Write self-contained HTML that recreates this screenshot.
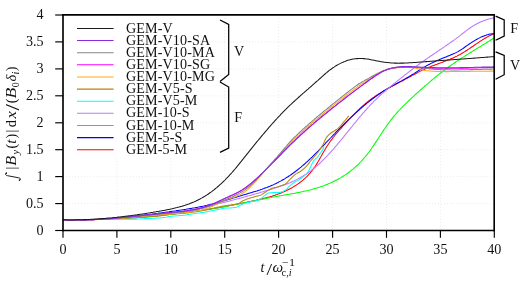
<!DOCTYPE html>
<html><head><meta charset="utf-8"><title>plot</title>
<style>
html,body{margin:0;padding:0;background:#fff;}
body{width:525px;height:283px;overflow:hidden;}
svg{display:block;will-change:transform;}
text{font-family:"Liberation Serif",serif;fill:#111;}
.it{font-style:italic;}
</style></head><body>
<svg width="525" height="283" viewBox="0 0 525 283">
<rect x="0" y="0" width="525" height="283" fill="#ffffff"/>
<g stroke="#dcdcdc" stroke-width="0.75" stroke-dasharray="0.75 2.3" fill="none"><line x1="116.9" y1="15.0" x2="116.9" y2="230.5"/><line x1="170.8" y1="15.0" x2="170.8" y2="230.5"/><line x1="224.7" y1="15.0" x2="224.7" y2="230.5"/><line x1="278.6" y1="15.0" x2="278.6" y2="230.5"/><line x1="332.6" y1="15.0" x2="332.6" y2="230.5"/><line x1="386.5" y1="15.0" x2="386.5" y2="230.5"/><line x1="440.4" y1="15.0" x2="440.4" y2="230.5"/><line x1="63.0" y1="203.6" x2="494.3" y2="203.6"/><line x1="63.0" y1="176.6" x2="494.3" y2="176.6"/><line x1="63.0" y1="149.7" x2="494.3" y2="149.7"/><line x1="63.0" y1="122.8" x2="494.3" y2="122.8"/><line x1="63.0" y1="95.8" x2="494.3" y2="95.8"/><line x1="63.0" y1="68.9" x2="494.3" y2="68.9"/><line x1="63.0" y1="41.9" x2="494.3" y2="41.9"/></g>
<rect x="70" y="22.5" width="118" height="133.5" fill="#ffffff"/>
<g fill="none" stroke-width="1.05" stroke-linejoin="round" stroke-linecap="butt">
<path stroke="#ff0000" d="M63.0,219.8 L64.0,219.8 L65.0,219.8 L66.0,219.8 L67.0,219.8 L68.0,219.8 L69.0,219.8 L70.0,219.8 L71.0,219.8 L72.0,219.8 L73.0,219.8 L74.0,219.8 L75.0,219.8 L76.0,219.8 L77.0,219.8 L78.0,219.8 L79.0,219.8 L80.0,219.8 L81.0,219.7 L82.0,219.7 L83.0,219.7 L84.0,219.7 L85.0,219.7 L86.0,219.7 L87.0,219.7 L88.0,219.6 L89.0,219.6 L90.0,219.6 L91.0,219.6 L92.0,219.6 L93.0,219.5 L94.0,219.5 L95.0,219.5 L96.0,219.5 L97.0,219.4 L98.0,219.4 L99.0,219.4 L100.0,219.3 L101.0,219.3 L102.0,219.3 L103.0,219.2 L104.0,219.2 L105.0,219.2 L106.0,219.1 L107.0,219.1 L108.0,219.0 L109.0,219.0 L110.0,219.0 L111.0,218.9 L112.0,218.9 L113.0,218.8 L114.0,218.8 L115.0,218.7 L116.0,218.7 L117.0,218.6 L118.0,218.6 L119.0,218.5 L120.0,218.5 L121.0,218.4 L122.0,218.4 L123.0,218.3 L124.0,218.3 L125.0,218.2 L126.0,218.2 L127.0,218.1 L128.0,218.0 L129.0,218.0 L130.0,217.9 L131.0,217.8 L132.0,217.8 L133.0,217.7 L134.0,217.6 L135.0,217.6 L136.0,217.5 L137.0,217.4 L138.0,217.4 L139.0,217.3 L140.0,217.2 L141.0,217.1 L142.0,217.1 L143.0,217.0 L144.0,216.9 L145.0,216.8 L146.0,216.7 L147.0,216.7 L148.0,216.6 L149.0,216.5 L150.0,216.4 L151.0,216.3 L152.0,216.2 L153.0,216.1 L154.0,216.1 L155.0,216.0 L156.0,215.9 L157.0,215.8 L158.0,215.7 L159.0,215.6 L160.0,215.5 L161.0,215.4 L162.0,215.3 L163.0,215.2 L164.0,215.1 L165.0,215.0 L166.0,214.9 L167.0,214.8 L168.0,214.7 L169.0,214.6 L170.0,214.4 L171.0,214.3 L172.0,214.2 L173.0,214.1 L174.0,214.0 L175.0,213.9 L176.0,213.8 L177.0,213.6 L178.0,213.5 L179.0,213.4 L180.0,213.3 L181.0,213.2 L182.0,213.0 L183.0,212.9 L184.0,212.8 L185.0,212.7 L186.0,212.5 L187.0,212.4 L188.0,212.3 L189.0,212.1 L190.0,212.0 L191.0,211.9 L192.0,211.7 L193.0,211.6 L194.0,211.4 L195.0,211.3 L196.0,211.2 L197.0,211.0 L198.0,210.9 L199.0,210.7 L200.0,210.6 L201.0,210.4 L202.0,210.3 L203.0,210.1 L204.0,210.0 L205.0,209.8 L206.0,209.7 L207.0,209.5 L208.0,209.4 L209.0,209.2 L210.0,209.0 L211.0,208.9 L212.0,208.7 L213.0,208.6 L214.0,208.4 L215.0,208.2 L216.0,208.1 L217.0,207.9 L218.0,207.7 L219.0,207.6 L220.0,207.4 L221.0,207.2 L222.0,207.0 L223.0,206.9 L224.0,206.7 L225.0,206.5 L226.0,206.3 L227.0,206.1 L228.0,205.9 L229.0,205.8 L230.0,205.6 L231.0,205.4 L232.0,205.2 L233.0,205.0 L234.0,204.8 L235.0,204.6 L236.0,204.4 L237.0,204.2 L238.0,204.0 L239.0,203.8 L240.0,203.6 L241.0,203.4 L242.0,203.2 L243.0,203.0 L244.0,202.8 L245.0,202.6 L246.0,202.4 L247.0,202.2 L248.0,202.0 L249.0,201.8 L250.0,201.6 L251.0,201.4 L252.0,201.1 L253.0,200.9 L254.0,200.7 L255.0,200.5 L256.0,200.3 L257.0,200.0 L258.0,199.8 L259.0,199.6 L260.0,199.3 L261.0,199.1 L262.0,198.9 L263.0,198.6 L264.0,198.4 L265.0,198.1 L266.0,197.9 L267.0,197.6 L268.0,197.3 L269.0,197.0 L270.0,196.8 L271.0,196.5 L272.0,196.2 L273.0,195.8 L274.0,195.5 L275.0,195.2 L276.0,194.8 L277.0,194.5 L278.0,194.1 L279.0,193.8 L280.0,193.4 L281.0,193.0 L282.0,192.6 L283.0,192.1 L284.0,191.7 L285.0,191.2 L286.0,190.8 L287.0,190.3 L288.0,189.8 L289.0,189.3 L290.0,188.8 L291.0,188.2 L292.0,187.7 L293.0,187.1 L294.0,186.5 L295.0,185.9 L296.0,185.3 L297.0,184.6 L298.0,183.9 L299.0,183.2 L300.0,182.5 L301.0,181.7 L302.0,180.9 L303.0,180.1 L304.0,179.2 L305.0,178.3 L306.0,177.4 L307.0,176.4 L308.0,175.3 L309.0,174.2 L310.0,173.1 L311.0,171.9 L312.0,170.6 L313.0,169.3 L314.0,167.9 L315.0,166.5 L316.0,165.0 L317.0,163.4 L318.0,161.8 L319.0,160.1 L320.0,158.3 L321.0,156.6 L322.0,154.8 L323.0,153.0 L324.0,151.3 L325.0,149.6 L326.0,147.9 L327.0,146.3 L328.0,144.7 L329.0,143.2 L330.0,141.8 L331.0,140.4 L332.0,139.1 L333.0,137.7 L334.0,136.5 L335.0,135.2 L336.0,134.0 L337.0,132.8 L338.0,131.7 L339.0,130.5 L340.0,129.4 L341.0,128.3 L342.0,127.1 L343.0,126.0 L344.0,124.9 L345.0,123.8 L346.0,122.7 L347.0,121.6 L348.0,120.6 L349.0,119.5 L350.0,118.4 L351.0,117.4 L352.0,116.3 L353.0,115.3 L354.0,114.3 L355.0,113.3 L356.0,112.3 L357.0,111.3 L358.0,110.3 L359.0,109.4 L360.0,108.4 L361.0,107.5 L362.0,106.6 L363.0,105.7 L364.0,104.8 L365.0,104.0 L366.0,103.1 L367.0,102.3 L368.0,101.5 L369.0,100.7 L370.0,100.0 L371.0,99.2 L372.0,98.5 L373.0,97.8 L374.0,97.1 L375.0,96.4 L376.0,95.7 L377.0,95.0 L378.0,94.4 L379.0,93.7 L380.0,93.1 L381.0,92.5 L382.0,91.9 L383.0,91.3 L384.0,90.7 L385.0,90.1 L386.0,89.6 L387.0,89.0 L388.0,88.4 L389.0,87.9 L390.0,87.4 L391.0,86.8 L392.0,86.3 L393.0,85.7 L394.0,85.2 L395.0,84.7 L396.0,84.2 L397.0,83.6 L398.0,83.1 L399.0,82.6 L400.0,82.1 L401.0,81.5 L402.0,81.0 L403.0,80.5 L404.0,80.0 L405.0,79.4 L406.0,78.9 L407.0,78.3 L408.0,77.8 L409.0,77.3 L410.0,76.7 L411.0,76.2 L412.0,75.6 L413.0,75.1 L414.0,74.5 L415.0,74.0 L416.0,73.5 L417.0,73.0 L418.0,72.4 L419.0,71.9 L420.0,71.4 L421.0,70.9 L422.0,70.4 L423.0,69.9 L424.0,69.5 L425.0,69.0 L426.0,68.5 L427.0,68.1 L428.0,67.7 L429.0,67.3 L430.0,66.9 L431.0,66.5 L432.0,66.1 L433.0,65.7 L434.0,65.3 L435.0,64.9 L436.0,64.5 L437.0,64.2 L438.0,63.8 L439.0,63.4 L440.0,63.1 L441.0,62.7 L442.0,62.4 L443.0,62.0 L444.0,61.6 L445.0,61.2 L446.0,60.8 L447.0,60.5 L448.0,60.1 L449.0,59.7 L450.0,59.3 L451.0,58.8 L452.0,58.4 L453.0,58.0 L454.0,57.5 L455.0,57.0 L456.0,56.6 L457.0,56.1 L458.0,55.5 L459.0,55.0 L460.0,54.5 L461.0,53.9 L462.0,53.3 L463.0,52.7 L464.0,52.1 L465.0,51.5 L466.0,50.8 L467.0,50.2 L468.0,49.5 L469.0,48.9 L470.0,48.2 L471.0,47.5 L472.0,46.8 L473.0,46.2 L474.0,45.5 L475.0,44.8 L476.0,44.1 L477.0,43.4 L478.0,42.8 L479.0,42.1 L480.0,41.4 L481.0,40.8 L482.0,40.1 L483.0,39.5 L484.0,38.9 L485.0,38.3 L486.0,37.7 L487.0,37.1 L488.0,36.5 L489.0,36.0 L490.0,35.5 L491.0,35.0 L492.0,34.5 L493.0,34.0 L494.0,33.6"/>
<path stroke="#0000ff" d="M63.0,219.8 L64.0,219.8 L65.0,219.9 L66.0,219.9 L67.0,219.9 L68.0,219.9 L69.0,219.9 L70.0,220.0 L71.0,220.0 L72.0,220.0 L73.0,220.0 L74.0,220.0 L75.0,220.0 L76.0,220.0 L77.0,220.0 L78.0,220.0 L79.0,220.0 L80.0,220.0 L81.0,219.9 L82.0,219.9 L83.0,219.9 L84.0,219.9 L85.0,219.9 L86.0,219.8 L87.0,219.8 L88.0,219.8 L89.0,219.7 L90.0,219.7 L91.0,219.7 L92.0,219.6 L93.0,219.6 L94.0,219.5 L95.0,219.5 L96.0,219.4 L97.0,219.4 L98.0,219.3 L99.0,219.3 L100.0,219.2 L101.0,219.2 L102.0,219.1 L103.0,219.0 L104.0,219.0 L105.0,218.9 L106.0,218.8 L107.0,218.8 L108.0,218.7 L109.0,218.6 L110.0,218.6 L111.0,218.5 L112.0,218.4 L113.0,218.3 L114.0,218.2 L115.0,218.1 L116.0,218.1 L117.0,218.0 L118.0,217.9 L119.0,217.8 L120.0,217.7 L121.0,217.6 L122.0,217.5 L123.0,217.4 L124.0,217.3 L125.0,217.2 L126.0,217.1 L127.0,217.0 L128.0,216.9 L129.0,216.8 L130.0,216.7 L131.0,216.6 L132.0,216.5 L133.0,216.4 L134.0,216.2 L135.0,216.1 L136.0,216.0 L137.0,215.9 L138.0,215.8 L139.0,215.7 L140.0,215.6 L141.0,215.4 L142.0,215.3 L143.0,215.2 L144.0,215.1 L145.0,214.9 L146.0,214.8 L147.0,214.7 L148.0,214.6 L149.0,214.4 L150.0,214.3 L151.0,214.2 L152.0,214.1 L153.0,213.9 L154.0,213.8 L155.0,213.7 L156.0,213.5 L157.0,213.4 L158.0,213.3 L159.0,213.1 L160.0,213.0 L161.0,212.9 L162.0,212.7 L163.0,212.6 L164.0,212.4 L165.0,212.3 L166.0,212.2 L167.0,212.0 L168.0,211.9 L169.0,211.8 L170.0,211.6 L171.0,211.5 L172.0,211.3 L173.0,211.2 L174.0,211.1 L175.0,210.9 L176.0,210.8 L177.0,210.6 L178.0,210.5 L179.0,210.3 L180.0,210.2 L181.0,210.0 L182.0,209.9 L183.0,209.7 L184.0,209.6 L185.0,209.4 L186.0,209.3 L187.0,209.1 L188.0,209.0 L189.0,208.8 L190.0,208.6 L191.0,208.5 L192.0,208.3 L193.0,208.1 L194.0,207.9 L195.0,207.8 L196.0,207.6 L197.0,207.4 L198.0,207.2 L199.0,207.0 L200.0,206.8 L201.0,206.6 L202.0,206.4 L203.0,206.2 L204.0,206.0 L205.0,205.7 L206.0,205.5 L207.0,205.3 L208.0,205.0 L209.0,204.8 L210.0,204.6 L211.0,204.3 L212.0,204.1 L213.0,203.8 L214.0,203.5 L215.0,203.3 L216.0,203.0 L217.0,202.7 L218.0,202.5 L219.0,202.2 L220.0,201.9 L221.0,201.6 L222.0,201.3 L223.0,201.1 L224.0,200.8 L225.0,200.5 L226.0,200.2 L227.0,199.9 L228.0,199.6 L229.0,199.3 L230.0,199.0 L231.0,198.7 L232.0,198.4 L233.0,198.1 L234.0,197.8 L235.0,197.5 L236.0,197.2 L237.0,196.9 L238.0,196.6 L239.0,196.3 L240.0,196.0 L241.0,195.7 L242.0,195.4 L243.0,195.1 L244.0,194.8 L245.0,194.5 L246.0,194.2 L247.0,193.9 L248.0,193.6 L249.0,193.3 L250.0,193.0 L251.0,192.7 L252.0,192.4 L253.0,192.1 L254.0,191.8 L255.0,191.5 L256.0,191.2 L257.0,190.9 L258.0,190.5 L259.0,190.2 L260.0,189.9 L261.0,189.5 L262.0,189.2 L263.0,188.8 L264.0,188.5 L265.0,188.1 L266.0,187.7 L267.0,187.4 L268.0,187.0 L269.0,186.6 L270.0,186.2 L271.0,185.7 L272.0,185.3 L273.0,184.9 L274.0,184.4 L275.0,183.9 L276.0,183.5 L277.0,183.0 L278.0,182.5 L279.0,181.9 L280.0,181.4 L281.0,180.9 L282.0,180.3 L283.0,179.7 L284.0,179.2 L285.0,178.6 L286.0,177.9 L287.0,177.3 L288.0,176.7 L289.0,176.0 L290.0,175.4 L291.0,174.7 L292.0,174.0 L293.0,173.3 L294.0,172.5 L295.0,171.8 L296.0,171.0 L297.0,170.3 L298.0,169.5 L299.0,168.7 L300.0,167.9 L301.0,167.1 L302.0,166.2 L303.0,165.4 L304.0,164.5 L305.0,163.6 L306.0,162.7 L307.0,161.8 L308.0,160.9 L309.0,159.9 L310.0,159.0 L311.0,158.0 L312.0,157.1 L313.0,156.1 L314.0,155.1 L315.0,154.1 L316.0,153.1 L317.0,152.1 L318.0,151.1 L319.0,150.0 L320.0,149.0 L321.0,148.0 L322.0,146.9 L323.0,145.9 L324.0,144.8 L325.0,143.8 L326.0,142.7 L327.0,141.7 L328.0,140.6 L329.0,139.6 L330.0,138.5 L331.0,137.5 L332.0,136.4 L333.0,135.4 L334.0,134.3 L335.0,133.3 L336.0,132.2 L337.0,131.2 L338.0,130.2 L339.0,129.1 L340.0,128.1 L341.0,127.1 L342.0,126.1 L343.0,125.1 L344.0,124.1 L345.0,123.1 L346.0,122.1 L347.0,121.2 L348.0,120.2 L349.0,119.2 L350.0,118.3 L351.0,117.3 L352.0,116.4 L353.0,115.5 L354.0,114.5 L355.0,113.6 L356.0,112.7 L357.0,111.8 L358.0,110.9 L359.0,110.0 L360.0,109.1 L361.0,108.3 L362.0,107.4 L363.0,106.5 L364.0,105.7 L365.0,104.9 L366.0,104.0 L367.0,103.2 L368.0,102.4 L369.0,101.6 L370.0,100.8 L371.0,100.0 L372.0,99.3 L373.0,98.5 L374.0,97.8 L375.0,97.0 L376.0,96.3 L377.0,95.6 L378.0,94.9 L379.0,94.2 L380.0,93.5 L381.0,92.8 L382.0,92.1 L383.0,91.5 L384.0,90.8 L385.0,90.2 L386.0,89.6 L387.0,89.0 L388.0,88.3 L389.0,87.8 L390.0,87.2 L391.0,86.6 L392.0,86.0 L393.0,85.5 L394.0,84.9 L395.0,84.4 L396.0,83.8 L397.0,83.3 L398.0,82.7 L399.0,82.2 L400.0,81.6 L401.0,81.1 L402.0,80.6 L403.0,80.0 L404.0,79.5 L405.0,78.9 L406.0,78.3 L407.0,77.8 L408.0,77.2 L409.0,76.6 L410.0,76.0 L411.0,75.4 L412.0,74.8 L413.0,74.2 L414.0,73.6 L415.0,72.9 L416.0,72.3 L417.0,71.6 L418.0,71.0 L419.0,70.3 L420.0,69.7 L421.0,69.1 L422.0,68.4 L423.0,67.8 L424.0,67.2 L425.0,66.7 L426.0,66.1 L427.0,65.5 L428.0,65.0 L429.0,64.5 L430.0,64.0 L431.0,63.4 L432.0,62.9 L433.0,62.5 L434.0,62.0 L435.0,61.5 L436.0,61.1 L437.0,60.6 L438.0,60.2 L439.0,59.8 L440.0,59.3 L441.0,58.9 L442.0,58.5 L443.0,58.1 L444.0,57.7 L445.0,57.3 L446.0,56.9 L447.0,56.5 L448.0,56.1 L449.0,55.7 L450.0,55.3 L451.0,54.8 L452.0,54.4 L453.0,54.0 L454.0,53.6 L455.0,53.1 L456.0,52.6 L457.0,52.1 L458.0,51.6 L459.0,51.0 L460.0,50.4 L461.0,49.8 L462.0,49.1 L463.0,48.5 L464.0,47.8 L465.0,47.0 L466.0,46.3 L467.0,45.6 L468.0,44.9 L469.0,44.2 L470.0,43.5 L471.0,42.9 L472.0,42.2 L473.0,41.6 L474.0,41.0 L475.0,40.4 L476.0,39.8 L477.0,39.2 L478.0,38.6 L479.0,38.1 L480.0,37.6 L481.0,37.1 L482.0,36.7 L483.0,36.3 L484.0,35.9 L485.0,35.5 L486.0,35.2 L487.0,34.8 L488.0,34.6 L489.0,34.3 L490.0,34.1 L491.0,34.0 L492.0,33.8 L493.0,33.7 L494.0,33.7"/>
<path stroke="#00ff00" d="M63.0,219.8 L64.0,219.8 L65.0,219.8 L66.0,219.8 L67.0,219.8 L68.0,219.8 L69.0,219.8 L70.0,219.8 L71.0,219.8 L72.0,219.8 L73.0,219.8 L74.0,219.8 L75.0,219.8 L76.0,219.8 L77.0,219.8 L78.0,219.8 L79.0,219.8 L80.0,219.8 L81.0,219.8 L82.0,219.8 L83.0,219.8 L84.0,219.8 L85.0,219.7 L86.0,219.7 L87.0,219.7 L88.0,219.7 L89.0,219.7 L90.0,219.7 L91.0,219.6 L92.0,219.6 L93.0,219.6 L94.0,219.6 L95.0,219.5 L96.0,219.5 L97.0,219.5 L98.0,219.5 L99.0,219.4 L100.0,219.4 L101.0,219.4 L102.0,219.3 L103.0,219.3 L104.0,219.3 L105.0,219.2 L106.0,219.2 L107.0,219.2 L108.0,219.1 L109.0,219.1 L110.0,219.0 L111.0,219.0 L112.0,218.9 L113.0,218.9 L114.0,218.9 L115.0,218.8 L116.0,218.8 L117.0,218.7 L118.0,218.7 L119.0,218.6 L120.0,218.6 L121.0,218.5 L122.0,218.4 L123.0,218.4 L124.0,218.3 L125.0,218.3 L126.0,218.2 L127.0,218.2 L128.0,218.1 L129.0,218.0 L130.0,218.0 L131.0,217.9 L132.0,217.8 L133.0,217.8 L134.0,217.7 L135.0,217.6 L136.0,217.6 L137.0,217.5 L138.0,217.4 L139.0,217.3 L140.0,217.3 L141.0,217.2 L142.0,217.1 L143.0,217.0 L144.0,216.9 L145.0,216.9 L146.0,216.8 L147.0,216.7 L148.0,216.6 L149.0,216.5 L150.0,216.4 L151.0,216.4 L152.0,216.3 L153.0,216.2 L154.0,216.1 L155.0,216.0 L156.0,215.9 L157.0,215.8 L158.0,215.7 L159.0,215.6 L160.0,215.5 L161.0,215.4 L162.0,215.3 L163.0,215.2 L164.0,215.1 L165.0,215.0 L166.0,214.9 L167.0,214.8 L168.0,214.7 L169.0,214.6 L170.0,214.4 L171.0,214.3 L172.0,214.2 L173.0,214.1 L174.0,214.0 L175.0,213.9 L176.0,213.8 L177.0,213.6 L178.0,213.5 L179.0,213.4 L180.0,213.3 L181.0,213.1 L182.0,213.0 L183.0,212.9 L184.0,212.8 L185.0,212.6 L186.0,212.5 L187.0,212.4 L188.0,212.2 L189.0,212.1 L190.0,212.0 L191.0,211.8 L192.0,211.7 L193.0,211.6 L194.0,211.4 L195.0,211.3 L196.0,211.1 L197.0,211.0 L198.0,210.8 L199.0,210.7 L200.0,210.6 L201.0,210.4 L202.0,210.3 L203.0,210.1 L204.0,210.0 L205.0,209.8 L206.0,209.6 L207.0,209.5 L208.0,209.3 L209.0,209.2 L210.0,209.0 L211.0,208.8 L212.0,208.7 L213.0,208.5 L214.0,208.4 L215.0,208.2 L216.0,208.0 L217.0,207.9 L218.0,207.7 L219.0,207.5 L220.0,207.3 L221.0,207.2 L222.0,207.0 L223.0,206.8 L224.0,206.6 L225.0,206.5 L226.0,206.3 L227.0,206.1 L228.0,205.9 L229.0,205.7 L230.0,205.5 L231.0,205.4 L232.0,205.2 L233.0,205.0 L234.0,204.8 L235.0,204.6 L236.0,204.4 L237.0,204.2 L238.0,204.0 L239.0,203.8 L240.0,203.6 L241.0,203.4 L242.0,203.2 L243.0,203.0 L244.0,202.8 L245.0,202.7 L246.0,202.5 L247.0,202.3 L248.0,202.1 L249.0,201.9 L250.0,201.7 L251.0,201.5 L252.0,201.3 L253.0,201.1 L254.0,200.9 L255.0,200.7 L256.0,200.5 L257.0,200.3 L258.0,200.1 L259.0,199.9 L260.0,199.7 L261.0,199.5 L262.0,199.3 L263.0,199.1 L264.0,198.9 L265.0,198.7 L266.0,198.5 L267.0,198.3 L268.0,198.1 L269.0,197.9 L270.0,197.7 L271.0,197.5 L272.0,197.3 L273.0,197.1 L274.0,196.9 L275.0,196.8 L276.0,196.6 L277.0,196.4 L278.0,196.2 L279.0,196.0 L280.0,195.8 L281.0,195.7 L282.0,195.5 L283.0,195.3 L284.0,195.1 L285.0,195.0 L286.0,194.8 L287.0,194.6 L288.0,194.4 L289.0,194.3 L290.0,194.1 L291.0,193.9 L292.0,193.7 L293.0,193.5 L294.0,193.4 L295.0,193.2 L296.0,193.0 L297.0,192.8 L298.0,192.6 L299.0,192.4 L300.0,192.2 L301.0,192.0 L302.0,191.8 L303.0,191.6 L304.0,191.3 L305.0,191.1 L306.0,190.9 L307.0,190.7 L308.0,190.4 L309.0,190.2 L310.0,189.9 L311.0,189.7 L312.0,189.4 L313.0,189.1 L314.0,188.8 L315.0,188.5 L316.0,188.3 L317.0,187.9 L318.0,187.6 L319.0,187.3 L320.0,187.0 L321.0,186.6 L322.0,186.3 L323.0,185.9 L324.0,185.6 L325.0,185.2 L326.0,184.8 L327.0,184.4 L328.0,184.0 L329.0,183.6 L330.0,183.1 L331.0,182.7 L332.0,182.2 L333.0,181.8 L334.0,181.3 L335.0,180.8 L336.0,180.3 L337.0,179.8 L338.0,179.2 L339.0,178.7 L340.0,178.1 L341.0,177.6 L342.0,177.0 L343.0,176.3 L344.0,175.7 L345.0,175.1 L346.0,174.4 L347.0,173.7 L348.0,173.0 L349.0,172.2 L350.0,171.5 L351.0,170.7 L352.0,169.9 L353.0,169.1 L354.0,168.2 L355.0,167.3 L356.0,166.4 L357.0,165.5 L358.0,164.6 L359.0,163.6 L360.0,162.5 L361.0,161.5 L362.0,160.4 L363.0,159.3 L364.0,158.2 L365.0,157.0 L366.0,155.8 L367.0,154.6 L368.0,153.3 L369.0,152.0 L370.0,150.6 L371.0,149.2 L372.0,147.8 L373.0,146.4 L374.0,144.9 L375.0,143.4 L376.0,141.9 L377.0,140.4 L378.0,138.8 L379.0,137.3 L380.0,135.7 L381.0,134.2 L382.0,132.7 L383.0,131.1 L384.0,129.6 L385.0,128.2 L386.0,126.7 L387.0,125.3 L388.0,123.9 L389.0,122.5 L390.0,121.2 L391.0,119.9 L392.0,118.7 L393.0,117.4 L394.0,116.2 L395.0,115.0 L396.0,113.9 L397.0,112.7 L398.0,111.6 L399.0,110.5 L400.0,109.5 L401.0,108.4 L402.0,107.4 L403.0,106.3 L404.0,105.3 L405.0,104.4 L406.0,103.4 L407.0,102.4 L408.0,101.4 L409.0,100.5 L410.0,99.6 L411.0,98.6 L412.0,97.7 L413.0,96.8 L414.0,95.9 L415.0,94.9 L416.0,94.0 L417.0,93.1 L418.0,92.2 L419.0,91.3 L420.0,90.4 L421.0,89.5 L422.0,88.6 L423.0,87.7 L424.0,86.9 L425.0,86.0 L426.0,85.1 L427.0,84.3 L428.0,83.4 L429.0,82.6 L430.0,81.7 L431.0,80.9 L432.0,80.0 L433.0,79.2 L434.0,78.4 L435.0,77.5 L436.0,76.7 L437.0,75.9 L438.0,75.1 L439.0,74.3 L440.0,73.5 L441.0,72.7 L442.0,72.0 L443.0,71.2 L444.0,70.4 L445.0,69.7 L446.0,68.9 L447.0,68.2 L448.0,67.5 L449.0,66.7 L450.0,66.0 L451.0,65.3 L452.0,64.6 L453.0,63.9 L454.0,63.2 L455.0,62.5 L456.0,61.8 L457.0,61.1 L458.0,60.5 L459.0,59.8 L460.0,59.2 L461.0,58.5 L462.0,57.9 L463.0,57.2 L464.0,56.6 L465.0,55.9 L466.0,55.3 L467.0,54.7 L468.0,54.1 L469.0,53.4 L470.0,52.8 L471.0,52.2 L472.0,51.6 L473.0,51.0 L474.0,50.3 L475.0,49.7 L476.0,49.1 L477.0,48.5 L478.0,47.9 L479.0,47.3 L480.0,46.7 L481.0,46.1 L482.0,45.4 L483.0,44.8 L484.0,44.2 L485.0,43.6 L486.0,43.0 L487.0,42.3 L488.0,41.7 L489.0,41.1 L490.0,40.5 L491.0,39.8 L492.0,39.2 L493.0,38.5 L494.0,37.9"/>
<path stroke="#bc78ff" d="M63.0,219.8 L64.0,219.8 L65.0,219.8 L66.0,219.8 L67.0,219.8 L68.0,219.8 L69.0,219.8 L70.0,219.8 L71.0,219.8 L72.0,219.8 L73.0,219.7 L74.0,219.7 L75.0,219.7 L76.0,219.7 L77.0,219.7 L78.0,219.7 L79.0,219.7 L80.0,219.7 L81.0,219.6 L82.0,219.6 L83.0,219.6 L84.0,219.6 L85.0,219.6 L86.0,219.5 L87.0,219.5 L88.0,219.5 L89.0,219.5 L90.0,219.4 L91.0,219.4 L92.0,219.4 L93.0,219.4 L94.0,219.3 L95.0,219.3 L96.0,219.3 L97.0,219.2 L98.0,219.2 L99.0,219.2 L100.0,219.1 L101.0,219.1 L102.0,219.0 L103.0,219.0 L104.0,219.0 L105.0,218.9 L106.0,218.9 L107.0,218.8 L108.0,218.8 L109.0,218.7 L110.0,218.7 L111.0,218.6 L112.0,218.6 L113.0,218.5 L114.0,218.5 L115.0,218.4 L116.0,218.4 L117.0,218.3 L118.0,218.2 L119.0,218.2 L120.0,218.1 L121.0,218.0 L122.0,218.0 L123.0,217.9 L124.0,217.8 L125.0,217.8 L126.0,217.7 L127.0,217.6 L128.0,217.6 L129.0,217.5 L130.0,217.4 L131.0,217.3 L132.0,217.2 L133.0,217.2 L134.0,217.1 L135.0,217.0 L136.0,216.9 L137.0,216.8 L138.0,216.7 L139.0,216.6 L140.0,216.6 L141.0,216.5 L142.0,216.4 L143.0,216.3 L144.0,216.2 L145.0,216.1 L146.0,216.0 L147.0,215.9 L148.0,215.8 L149.0,215.7 L150.0,215.5 L151.0,215.4 L152.0,215.3 L153.0,215.2 L154.0,215.1 L155.0,215.0 L156.0,214.9 L157.0,214.7 L158.0,214.6 L159.0,214.5 L160.0,214.4 L161.0,214.2 L162.0,214.1 L163.0,214.0 L164.0,213.9 L165.0,213.7 L166.0,213.6 L167.0,213.4 L168.0,213.3 L169.0,213.2 L170.0,213.0 L171.0,212.9 L172.0,212.7 L173.0,212.6 L174.0,212.4 L175.0,212.3 L176.0,212.1 L177.0,212.0 L178.0,211.8 L179.0,211.6 L180.0,211.5 L181.0,211.3 L182.0,211.2 L183.0,211.0 L184.0,210.8 L185.0,210.6 L186.0,210.5 L187.0,210.3 L188.0,210.1 L189.0,209.9 L190.0,209.7 L191.0,209.6 L192.0,209.4 L193.0,209.2 L194.0,209.0 L195.0,208.8 L196.0,208.6 L197.0,208.4 L198.0,208.2 L199.0,208.0 L200.0,207.8 L201.0,207.6 L202.0,207.4 L203.0,207.2 L204.0,207.0 L205.0,206.8 L206.0,206.5 L207.0,206.3 L208.0,206.1 L209.0,205.9 L210.0,205.7 L211.0,205.4 L212.0,205.2 L213.0,205.0 L214.0,204.8 L215.0,204.5 L216.0,204.3 L217.0,204.1 L218.0,203.8 L219.0,203.6 L220.0,203.3 L221.0,203.1 L222.0,202.9 L223.0,202.6 L224.0,202.4 L225.0,202.1 L226.0,201.9 L227.0,201.6 L228.0,201.4 L229.0,201.1 L230.0,200.9 L231.0,200.6 L232.0,200.3 L233.0,200.1 L234.0,199.8 L235.0,199.6 L236.0,199.3 L237.0,199.0 L238.0,198.8 L239.0,198.5 L240.0,198.2 L241.0,198.0 L242.0,197.7 L243.0,197.4 L244.0,197.1 L245.0,196.9 L246.0,196.6 L247.0,196.3 L248.0,196.0 L249.0,195.8 L250.0,195.5 L251.0,195.2 L252.0,194.9 L253.0,194.6 L254.0,194.3 L255.0,194.1 L256.0,193.8 L257.0,193.5 L258.0,193.2 L259.0,192.9 L260.0,192.6 L261.0,192.3 L262.0,192.0 L263.0,191.7 L264.0,191.4 L265.0,191.1 L266.0,190.8 L267.0,190.5 L268.0,190.3 L269.0,190.0 L270.0,189.7 L271.0,189.4 L272.0,189.0 L273.0,188.7 L274.0,188.4 L275.0,188.1 L276.0,187.8 L277.0,187.5 L278.0,187.1 L279.0,186.8 L280.0,186.5 L281.0,186.1 L282.0,185.8 L283.0,185.4 L284.0,185.0 L285.0,184.7 L286.0,184.3 L287.0,183.9 L288.0,183.5 L289.0,183.1 L290.0,182.7 L291.0,182.2 L292.0,181.8 L293.0,181.3 L294.0,180.9 L295.0,180.4 L296.0,179.9 L297.0,179.4 L298.0,178.9 L299.0,178.3 L300.0,177.8 L301.0,177.2 L302.0,176.6 L303.0,176.0 L304.0,175.4 L305.0,174.8 L306.0,174.2 L307.0,173.5 L308.0,172.8 L309.0,172.1 L310.0,171.4 L311.0,170.7 L312.0,169.9 L313.0,169.1 L314.0,168.3 L315.0,167.5 L316.0,166.7 L317.0,165.8 L318.0,164.9 L319.0,164.0 L320.0,163.1 L321.0,162.2 L322.0,161.2 L323.0,160.2 L324.0,159.2 L325.0,158.2 L326.0,157.1 L327.0,156.1 L328.0,155.0 L329.0,153.9 L330.0,152.8 L331.0,151.7 L332.0,150.6 L333.0,149.5 L334.0,148.3 L335.0,147.2 L336.0,146.0 L337.0,144.8 L338.0,143.6 L339.0,142.4 L340.0,141.2 L341.0,140.0 L342.0,138.8 L343.0,137.6 L344.0,136.4 L345.0,135.1 L346.0,133.9 L347.0,132.7 L348.0,131.4 L349.0,130.2 L350.0,128.9 L351.0,127.7 L352.0,126.5 L353.0,125.2 L354.0,124.0 L355.0,122.8 L356.0,121.6 L357.0,120.3 L358.0,119.1 L359.0,117.9 L360.0,116.7 L361.0,115.6 L362.0,114.4 L363.0,113.2 L364.0,112.1 L365.0,110.9 L366.0,109.8 L367.0,108.7 L368.0,107.5 L369.0,106.5 L370.0,105.4 L371.0,104.3 L372.0,103.3 L373.0,102.3 L374.0,101.2 L375.0,100.3 L376.0,99.3 L377.0,98.3 L378.0,97.4 L379.0,96.4 L380.0,95.5 L381.0,94.6 L382.0,93.7 L383.0,92.8 L384.0,92.0 L385.0,91.1 L386.0,90.3 L387.0,89.4 L388.0,88.6 L389.0,87.7 L390.0,86.9 L391.0,86.1 L392.0,85.3 L393.0,84.5 L394.0,83.7 L395.0,82.9 L396.0,82.1 L397.0,81.3 L398.0,80.5 L399.0,79.7 L400.0,78.9 L401.0,78.1 L402.0,77.3 L403.0,76.5 L404.0,75.7 L405.0,74.9 L406.0,74.2 L407.0,73.4 L408.0,72.6 L409.0,71.8 L410.0,71.0 L411.0,70.3 L412.0,69.5 L413.0,68.7 L414.0,68.0 L415.0,67.2 L416.0,66.5 L417.0,65.7 L418.0,65.0 L419.0,64.3 L420.0,63.5 L421.0,62.8 L422.0,62.1 L423.0,61.4 L424.0,60.7 L425.0,60.0 L426.0,59.3 L427.0,58.6 L428.0,57.9 L429.0,57.2 L430.0,56.5 L431.0,55.8 L432.0,55.2 L433.0,54.5 L434.0,53.8 L435.0,53.1 L436.0,52.5 L437.0,51.8 L438.0,51.1 L439.0,50.5 L440.0,49.8 L441.0,49.1 L442.0,48.4 L443.0,47.7 L444.0,47.1 L445.0,46.4 L446.0,45.7 L447.0,45.0 L448.0,44.3 L449.0,43.6 L450.0,42.9 L451.0,42.2 L452.0,41.5 L453.0,40.8 L454.0,40.1 L455.0,39.3 L456.0,38.6 L457.0,37.8 L458.0,37.1 L459.0,36.3 L460.0,35.6 L461.0,34.8 L462.0,34.0 L463.0,33.2 L464.0,32.5 L465.0,31.7 L466.0,30.9 L467.0,30.2 L468.0,29.4 L469.0,28.7 L470.0,28.0 L471.0,27.3 L472.0,26.6 L473.0,26.0 L474.0,25.4 L475.0,24.8 L476.0,24.2 L477.0,23.7 L478.0,23.2 L479.0,22.7 L480.0,22.2 L481.0,21.8 L482.0,21.4 L483.0,21.0 L484.0,20.6 L485.0,20.2 L486.0,19.9 L487.0,19.6 L488.0,19.3 L489.0,19.0 L490.0,18.8 L491.0,18.5 L492.0,18.3 L493.0,18.1 L494.0,17.9"/>
<path stroke="#00ffff" d="M63.0,219.8 L64.0,219.8 L65.0,219.8 L66.0,219.8 L67.0,219.8 L68.0,219.8 L69.0,219.8 L70.0,219.8 L71.0,219.8 L72.0,219.8 L73.0,219.8 L74.0,219.8 L75.0,219.8 L76.0,219.7 L77.0,219.7 L78.0,219.7 L79.0,219.7 L80.0,219.7 L81.0,219.7 L82.0,219.7 L83.0,219.7 L84.0,219.7 L85.0,219.7 L86.0,219.6 L87.0,219.6 L88.0,219.6 L89.0,219.6 L90.0,219.6 L91.0,219.6 L92.0,219.6 L93.0,219.5 L94.0,219.5 L95.0,219.5 L96.0,219.5 L97.0,219.4 L98.0,219.4 L99.0,219.4 L100.0,219.3 L101.0,219.3 L102.0,219.3 L103.0,219.2 L104.0,219.2 L105.0,219.2 L106.0,219.1 L107.0,219.1 L108.0,219.1 L109.0,219.1 L110.0,219.1 L111.0,219.1 L112.0,219.1 L113.0,219.1 L114.0,219.1 L115.0,219.1 L116.0,219.1 L117.0,219.1 L118.0,219.1 L119.0,219.1 L120.0,219.1 L121.0,219.1 L122.0,219.1 L123.0,219.1 L124.0,219.1 L125.0,219.1 L126.0,219.1 L127.0,219.1 L128.0,219.1 L129.0,219.1 L130.0,219.1 L131.0,219.1 L132.0,219.1 L133.0,219.1 L134.0,219.1 L135.0,219.1 L136.0,219.1 L137.0,219.1 L138.0,219.0 L139.0,219.0 L140.0,218.9 L141.0,218.9 L142.0,218.8 L143.0,218.7 L144.0,218.7 L145.0,218.6 L146.0,218.6 L147.0,218.5 L148.0,218.5 L149.0,218.4 L150.0,218.4 L151.0,218.3 L152.0,218.3 L153.0,218.2 L154.0,218.2 L155.0,218.2 L156.0,218.1 L157.0,218.1 L158.0,218.0 L159.0,217.9 L160.0,217.9 L161.0,217.8 L162.0,217.7 L163.0,217.6 L164.0,217.5 L165.0,217.4 L166.0,217.3 L167.0,217.1 L168.0,216.8 L169.0,216.6 L170.0,216.4 L171.0,216.3 L172.0,216.2 L173.0,216.1 L174.0,216.0 L175.0,215.9 L176.0,215.9 L177.0,215.8 L178.0,215.7 L179.0,215.7 L180.0,215.6 L181.0,215.5 L182.0,215.4 L183.0,215.3 L184.0,215.2 L185.0,215.1 L186.0,214.9 L187.0,214.8 L188.0,214.6 L189.0,214.5 L190.0,214.3 L191.0,214.1 L192.0,213.9 L193.0,213.8 L194.0,213.6 L195.0,213.5 L196.0,213.3 L197.0,213.2 L198.0,213.0 L199.0,212.9 L200.0,212.8 L201.0,212.6 L202.0,212.5 L203.0,212.4 L204.0,212.2 L205.0,212.0 L206.0,211.9 L207.0,211.7 L208.0,211.5 L209.0,211.3 L210.0,211.1 L211.0,210.9 L212.0,210.7 L213.0,210.5 L214.0,210.3 L215.0,210.1 L216.0,209.9 L217.0,209.7 L218.0,209.5 L219.0,209.3 L220.0,209.1 L221.0,208.9 L222.0,208.6 L223.0,208.4 L224.0,208.2 L225.0,208.1 L226.0,208.0 L227.0,208.0 L228.0,207.9 L229.0,207.9 L230.0,207.9 L231.0,207.9 L232.0,207.8 L233.0,207.7 L234.0,207.6 L235.0,207.4 L236.0,207.2 L237.0,207.0 L238.0,206.5 L239.0,206.0 L240.0,205.4 L241.0,204.8 L242.0,204.3 L243.0,203.9 L244.0,203.6 L245.0,203.2 L246.0,203.0 L247.0,202.7 L248.0,202.4 L249.0,202.2 L250.0,202.0 L251.0,201.8 L252.0,201.6 L253.0,201.4 L254.0,201.2 L255.0,200.9 L256.0,200.7 L257.0,200.3 L258.0,200.0 L259.0,199.6 L260.0,199.1 L261.0,198.6 L262.0,197.9 L263.0,197.0 L264.0,196.1 L265.0,195.3 L266.0,194.4 L267.0,193.6 L268.0,193.1 L269.0,192.9 L270.0,192.8 L271.0,192.7 L272.0,192.7 L273.0,192.6 L274.0,192.6 L275.0,192.5 L276.0,192.5 L277.0,192.5 L278.0,192.5 L279.0,192.4 L280.0,192.4 L281.0,192.1 L282.0,191.8 L283.0,191.4 L284.0,190.9 L285.0,190.3 L286.0,189.7 L287.0,188.8 L288.0,187.7 L289.0,186.6 L290.0,185.7 L291.0,184.8 L292.0,184.0 L293.0,183.3 L294.0,182.6 L295.0,181.9 L296.0,181.3 L297.0,180.9 L298.0,180.3 L299.0,179.8 L300.0,179.1 L301.0,178.4 L302.0,177.7 L303.0,176.9 L304.0,176.0 L305.0,175.1 L306.0,174.1 L307.0,173.0 L308.0,171.7 L309.0,170.2 L310.0,168.1 L311.0,166.0 L312.0,163.8 L313.0,161.7 L314.0,160.4 L315.0,159.4 L316.0,158.5 L317.0,157.5 L318.0,156.3 L319.0,155.0 L320.0,153.6 L321.0,152.3 L322.0,150.9 L323.0,149.2 L324.0,146.7 L324.1,146.4"/>
<path stroke="#b8860b" d="M63.0,219.8 L64.0,219.8 L65.0,219.8 L66.0,219.8 L67.0,219.8 L68.0,219.8 L69.0,219.8 L70.0,219.8 L71.0,219.8 L72.0,219.8 L73.0,219.7 L74.0,219.7 L75.0,219.7 L76.0,219.7 L77.0,219.7 L78.0,219.7 L79.0,219.7 L80.0,219.7 L81.0,219.6 L82.0,219.6 L83.0,219.6 L84.0,219.6 L85.0,219.6 L86.0,219.6 L87.0,219.6 L88.0,219.5 L89.0,219.5 L90.0,219.5 L91.0,219.5 L92.0,219.5 L93.0,219.4 L94.0,219.4 L95.0,219.4 L96.0,219.4 L97.0,219.3 L98.0,219.3 L99.0,219.3 L100.0,219.2 L101.0,219.2 L102.0,219.1 L103.0,219.1 L104.0,219.1 L105.0,219.0 L106.0,219.0 L107.0,218.9 L108.0,218.9 L109.0,218.9 L110.0,218.8 L111.0,218.8 L112.0,218.7 L113.0,218.7 L114.0,218.6 L115.0,218.6 L116.0,218.5 L117.0,218.5 L118.0,218.5 L119.0,218.4 L120.0,218.4 L121.0,218.3 L122.0,218.3 L123.0,218.2 L124.0,218.2 L125.0,218.2 L126.0,218.1 L127.0,218.1 L128.0,218.0 L129.0,218.0 L130.0,217.9 L131.0,217.9 L132.0,217.8 L133.0,217.8 L134.0,217.7 L135.0,217.7 L136.0,217.6 L137.0,217.6 L138.0,217.5 L139.0,217.5 L140.0,217.4 L141.0,217.4 L142.0,217.3 L143.0,217.3 L144.0,217.2 L145.0,217.1 L146.0,217.1 L147.0,217.0 L148.0,216.9 L149.0,216.9 L150.0,216.8 L151.0,216.7 L152.0,216.7 L153.0,216.6 L154.0,216.5 L155.0,216.4 L156.0,216.3 L157.0,216.3 L158.0,216.2 L159.0,216.1 L160.0,215.9 L161.0,215.8 L162.0,215.6 L163.0,215.4 L164.0,215.2 L165.0,215.0 L166.0,214.8 L167.0,214.6 L168.0,214.4 L169.0,214.2 L170.0,214.1 L171.0,214.0 L172.0,213.9 L173.0,213.9 L174.0,213.8 L175.0,213.8 L176.0,213.8 L177.0,213.7 L178.0,213.7 L179.0,213.6 L180.0,213.6 L181.0,213.5 L182.0,213.5 L183.0,213.4 L184.0,213.3 L185.0,213.2 L186.0,213.1 L187.0,213.0 L188.0,212.9 L189.0,212.7 L190.0,212.6 L191.0,212.4 L192.0,212.3 L193.0,212.1 L194.0,212.0 L195.0,211.8 L196.0,211.7 L197.0,211.5 L198.0,211.4 L199.0,211.2 L200.0,211.0 L201.0,210.9 L202.0,210.7 L203.0,210.5 L204.0,210.3 L205.0,210.1 L206.0,210.0 L207.0,209.8 L208.0,209.6 L209.0,209.3 L210.0,209.1 L211.0,208.8 L212.0,208.6 L213.0,208.3 L214.0,208.1 L215.0,207.8 L216.0,207.6 L217.0,207.3 L218.0,207.1 L219.0,206.9 L220.0,206.7 L221.0,206.5 L222.0,206.3 L223.0,206.1 L224.0,206.0 L225.0,205.8 L226.0,205.7 L227.0,205.5 L228.0,205.3 L229.0,205.2 L230.0,205.0 L231.0,204.9 L232.0,204.7 L233.0,204.6 L234.0,204.4 L235.0,204.3 L236.0,204.1 L237.0,203.9 L238.0,203.7 L239.0,203.4 L240.0,202.8 L241.0,202.0 L242.0,201.2 L243.0,200.7 L244.0,200.3 L245.0,199.9 L246.0,199.5 L247.0,199.1 L248.0,198.8 L249.0,198.5 L250.0,198.1 L251.0,197.8 L252.0,197.5 L253.0,197.2 L254.0,196.9 L255.0,196.6 L256.0,196.4 L257.0,196.1 L258.0,195.9 L259.0,195.6 L260.0,195.3 L261.0,194.9 L262.0,194.4 L263.0,193.8 L264.0,193.1 L265.0,192.4 L266.0,191.7 L267.0,191.1 L268.0,190.4 L269.0,189.7 L270.0,189.1 L271.0,188.7 L272.0,188.3 L273.0,188.0 L274.0,187.7 L275.0,187.4 L276.0,187.2 L277.0,186.9 L278.0,186.7 L279.0,186.4 L280.0,186.0 L281.0,185.7 L282.0,185.4 L283.0,185.0 L284.0,184.6 L285.0,184.1 L286.0,183.5 L287.0,182.6 L288.0,181.5 L289.0,180.4 L290.0,179.4 L291.0,178.4 L292.0,177.3 L293.0,176.3 L294.0,175.4 L295.0,174.6 L296.0,173.9 L297.0,173.4 L298.0,172.8 L299.0,172.2 L300.0,171.7 L301.0,171.0 L302.0,170.3 L303.0,169.5 L304.0,168.6 L305.0,167.7 L306.0,166.7 L307.0,165.6 L308.0,164.4 L309.0,163.1 L310.0,161.8 L311.0,160.5 L312.0,159.3 L313.0,158.1 L314.0,157.0 L315.0,155.8 L316.0,154.6 L317.0,153.4 L318.0,152.1 L319.0,150.8 L320.0,149.4 L321.0,147.9 L322.0,146.2 L323.0,144.4 L324.0,142.5 L325.0,140.3 L326.0,138.3 L327.0,136.8 L328.0,135.6 L329.0,134.7 L330.0,133.8 L331.0,133.0 L332.0,132.3 L333.0,131.7 L334.0,131.1 L335.0,130.5 L336.0,129.8 L337.0,129.1 L338.0,128.3 L339.0,127.4 L340.0,126.4 L341.0,125.3 L342.0,124.1 L343.0,122.9 L344.0,121.7 L345.0,120.5 L346.0,119.3 L347.0,118.1 L348.0,116.8 L348.8,115.8"/>
<path stroke="#ffa81a" d="M63.0,219.8 L64.0,219.8 L65.0,219.9 L66.0,219.9 L67.0,219.9 L68.0,220.0 L69.0,220.0 L70.0,220.0 L71.0,220.0 L72.0,220.0 L73.0,220.0 L74.0,220.1 L75.0,220.1 L76.0,220.1 L77.0,220.1 L78.0,220.1 L79.0,220.1 L80.0,220.1 L81.0,220.0 L82.0,220.0 L83.0,220.0 L84.0,220.0 L85.0,220.0 L86.0,220.0 L87.0,219.9 L88.0,219.9 L89.0,219.9 L90.0,219.9 L91.0,219.8 L92.0,219.8 L93.0,219.8 L94.0,219.7 L95.0,219.7 L96.0,219.6 L97.0,219.6 L98.0,219.5 L99.0,219.5 L100.0,219.5 L101.0,219.4 L102.0,219.3 L103.0,219.3 L104.0,219.2 L105.0,219.2 L106.0,219.1 L107.0,219.1 L108.0,219.0 L109.0,218.9 L110.0,218.9 L111.0,218.8 L112.0,218.7 L113.0,218.7 L114.0,218.6 L115.0,218.5 L116.0,218.4 L117.0,218.4 L118.0,218.3 L119.0,218.2 L120.0,218.1 L121.0,218.1 L122.0,218.0 L123.0,217.9 L124.0,217.8 L125.0,217.7 L126.0,217.7 L127.0,217.6 L128.0,217.5 L129.0,217.4 L130.0,217.3 L131.0,217.2 L132.0,217.1 L133.0,217.1 L134.0,217.0 L135.0,216.9 L136.0,216.8 L137.0,216.7 L138.0,216.6 L139.0,216.5 L140.0,216.4 L141.0,216.3 L142.0,216.2 L143.0,216.1 L144.0,216.1 L145.0,216.0 L146.0,215.9 L147.0,215.8 L148.0,215.7 L149.0,215.6 L150.0,215.5 L151.0,215.4 L152.0,215.3 L153.0,215.2 L154.0,215.1 L155.0,215.0 L156.0,215.0 L157.0,214.9 L158.0,214.8 L159.0,214.7 L160.0,214.6 L161.0,214.5 L162.0,214.5 L163.0,214.4 L164.0,214.3 L165.0,214.2 L166.0,214.1 L167.0,214.1 L168.0,214.0 L169.0,213.9 L170.0,213.9 L171.0,213.8 L172.0,213.7 L173.0,213.6 L174.0,213.6 L175.0,213.5 L176.0,213.4 L177.0,213.4 L178.0,213.3 L179.0,213.2 L180.0,213.1 L181.0,213.0 L182.0,213.0 L183.0,212.9 L184.0,212.8 L185.0,212.7 L186.0,212.6 L187.0,212.5 L188.0,212.4 L189.0,212.3 L190.0,212.1 L191.0,212.0 L192.0,211.9 L193.0,211.7 L194.0,211.6 L195.0,211.4 L196.0,211.2 L197.0,211.1 L198.0,210.9 L199.0,210.6 L200.0,210.4 L201.0,210.2 L202.0,209.9 L203.0,209.7 L204.0,209.4 L205.0,209.1 L206.0,208.7 L207.0,208.4 L208.0,208.0 L209.0,207.7 L210.0,207.3 L211.0,206.8 L212.0,206.4 L213.0,206.0 L214.0,205.5 L215.0,205.1 L216.0,204.6 L217.0,204.1 L218.0,203.6 L219.0,203.1 L220.0,202.7 L221.0,202.2 L222.0,201.7 L223.0,201.2 L224.0,200.7 L225.0,200.3 L226.0,199.9 L227.0,199.5 L228.0,199.1 L229.0,198.8 L230.0,198.5 L231.0,198.3 L232.0,198.0 L233.0,197.6 L234.0,197.3 L235.0,196.9 L236.0,196.5 L237.0,196.0 L238.0,195.6 L239.0,195.1 L240.0,194.6 L241.0,194.1 L242.0,193.5 L243.0,193.0 L244.0,192.3 L245.0,191.7 L246.0,190.9 L247.0,190.1 L248.0,189.3 L249.0,188.4 L250.0,187.4 L251.0,186.4 L252.0,185.4 L253.0,184.3 L254.0,183.2 L255.0,182.2 L256.0,181.1 L257.0,179.9 L258.0,178.8 L259.0,177.6 L260.0,176.4 L261.0,175.2 L262.0,174.0 L263.0,172.8 L264.0,171.6 L265.0,170.5 L266.0,169.5 L267.0,168.4 L268.0,167.3 L269.0,166.2 L270.0,165.2 L271.0,164.1 L272.0,163.0 L273.0,161.9 L274.0,160.9 L275.0,159.8 L276.0,158.7 L277.0,157.6 L278.0,156.5 L279.0,155.4 L280.0,154.3 L281.0,153.2 L282.0,152.1 L283.0,151.0 L284.0,149.9 L285.0,148.8 L286.0,147.7 L287.0,146.6 L288.0,145.6 L289.0,144.5 L290.0,143.4 L291.0,142.4 L292.0,141.4 L293.0,140.4 L294.0,139.4 L295.0,138.4 L296.0,137.5 L297.0,136.5 L298.0,135.6 L299.0,134.7 L300.0,133.7 L301.0,132.8 L302.0,131.9 L303.0,131.0 L304.0,130.1 L305.0,129.2 L306.0,128.3 L307.0,127.4 L308.0,126.5 L309.0,125.6 L310.0,124.8 L311.0,123.9 L312.0,123.0 L313.0,122.2 L314.0,121.3 L315.0,120.5 L316.0,119.6 L317.0,118.8 L318.0,118.0 L319.0,117.1 L320.0,116.3 L321.0,115.5 L322.0,114.6 L323.0,113.8 L324.0,113.0 L325.0,112.2 L326.0,111.4 L327.0,110.6 L328.0,109.7 L329.0,108.9 L330.0,108.1 L331.0,107.3 L332.0,106.5 L333.0,105.7 L334.0,104.9 L335.0,104.1 L336.0,103.3 L337.0,102.6 L338.0,101.8 L339.0,101.0 L340.0,100.2 L341.0,99.4 L342.0,98.6 L343.0,97.8 L344.0,97.0 L345.0,96.3 L346.0,95.5 L347.0,94.7 L348.0,93.9 L349.0,93.2 L350.0,92.4 L351.0,91.6 L352.0,90.9 L353.0,90.1 L354.0,89.3 L355.0,88.6 L356.0,87.9 L357.0,87.1 L358.0,86.4 L359.0,85.7 L360.0,85.0 L361.0,84.4 L362.0,83.7 L363.0,83.0 L364.0,82.4 L365.0,81.8 L366.0,81.1 L367.0,80.5 L368.0,79.8 L369.0,79.2 L370.0,78.6 L371.0,77.9 L372.0,77.3 L373.0,76.6 L374.0,76.0 L375.0,75.4 L376.0,74.7 L377.0,74.1 L378.0,73.6 L379.0,73.0 L380.0,72.5 L381.0,71.9 L382.0,71.5 L383.0,71.0 L384.0,70.6 L385.0,70.2 L386.0,69.8 L387.0,69.5 L388.0,69.2 L389.0,69.0 L390.0,68.8 L391.0,68.6 L392.0,68.4 L393.0,68.3 L394.0,68.1 L395.0,68.0 L396.0,67.9 L397.0,67.7 L398.0,67.6 L399.0,67.5 L400.0,67.4 L401.0,67.4 L402.0,67.3 L403.0,67.3 L404.0,67.3 L405.0,67.3 L406.0,67.3 L407.0,67.3 L408.0,67.3 L409.0,67.3 L410.0,67.4 L411.0,67.5 L412.0,67.6 L413.0,67.7 L414.0,67.9 L415.0,68.1 L416.0,68.3 L417.0,68.5 L418.0,68.7 L419.0,68.9 L420.0,69.1 L421.0,69.3 L422.0,69.6 L423.0,69.9 L424.0,70.2 L425.0,70.4 L426.0,70.6 L427.0,70.7 L428.0,70.8 L429.0,70.9 L430.0,71.0 L431.0,71.1 L432.0,71.2 L433.0,71.2 L434.0,71.3 L435.0,71.3 L436.0,71.4 L437.0,71.4 L438.0,71.5 L439.0,71.5 L440.0,71.5 L441.0,71.5 L442.0,71.5 L443.0,71.5 L444.0,71.5 L445.0,71.6 L446.0,71.6 L447.0,71.6 L448.0,71.6 L449.0,71.6 L450.0,71.5 L451.0,71.5 L452.0,71.5 L453.0,71.5 L454.0,71.5 L455.0,71.5 L456.0,71.5 L457.0,71.5 L458.0,71.5 L459.0,71.5 L460.0,71.4 L461.0,71.4 L462.0,71.4 L463.0,71.4 L464.0,71.4 L465.0,71.4 L466.0,71.4 L467.0,71.4 L468.0,71.4 L469.0,71.4 L470.0,71.4 L471.0,71.3 L472.0,71.3 L473.0,71.3 L474.0,71.3 L475.0,71.3 L476.0,71.3 L477.0,71.3 L478.0,71.3 L479.0,71.3 L480.0,71.3 L481.0,71.3 L482.0,71.3 L483.0,71.2 L484.0,71.2 L485.0,71.2 L486.0,71.2 L487.0,71.2 L488.0,71.2 L489.0,71.2 L490.0,71.1 L491.0,71.1 L492.0,71.1 L493.0,71.1 L494.0,71.1"/>
<path stroke="#ff00ff" d="M63.0,219.8 L64.0,219.8 L65.0,219.9 L66.0,219.9 L67.0,219.9 L68.0,220.0 L69.0,220.0 L70.0,220.0 L71.0,220.0 L72.0,220.0 L73.0,220.0 L74.0,220.1 L75.0,220.1 L76.0,220.1 L77.0,220.1 L78.0,220.1 L79.0,220.0 L80.0,220.0 L81.0,220.0 L82.0,220.0 L83.0,220.0 L84.0,220.0 L85.0,219.9 L86.0,219.9 L87.0,219.9 L88.0,219.9 L89.0,219.8 L90.0,219.8 L91.0,219.8 L92.0,219.7 L93.0,219.7 L94.0,219.6 L95.0,219.6 L96.0,219.5 L97.0,219.5 L98.0,219.4 L99.0,219.4 L100.0,219.3 L101.0,219.3 L102.0,219.2 L103.0,219.1 L104.0,219.1 L105.0,219.0 L106.0,218.9 L107.0,218.9 L108.0,218.8 L109.0,218.7 L110.0,218.6 L111.0,218.6 L112.0,218.5 L113.0,218.4 L114.0,218.3 L115.0,218.2 L116.0,218.2 L117.0,218.1 L118.0,218.0 L119.0,217.9 L120.0,217.8 L121.0,217.7 L122.0,217.6 L123.0,217.5 L124.0,217.4 L125.0,217.4 L126.0,217.3 L127.0,217.2 L128.0,217.1 L129.0,217.0 L130.0,216.9 L131.0,216.8 L132.0,216.7 L133.0,216.6 L134.0,216.5 L135.0,216.4 L136.0,216.3 L137.0,216.2 L138.0,216.1 L139.0,216.0 L140.0,215.9 L141.0,215.7 L142.0,215.6 L143.0,215.5 L144.0,215.4 L145.0,215.3 L146.0,215.2 L147.0,215.1 L148.0,215.0 L149.0,214.9 L150.0,214.8 L151.0,214.7 L152.0,214.6 L153.0,214.5 L154.0,214.4 L155.0,214.3 L156.0,214.2 L157.0,214.1 L158.0,214.0 L159.0,213.9 L160.0,213.7 L161.0,213.6 L162.0,213.5 L163.0,213.4 L164.0,213.3 L165.0,213.2 L166.0,213.1 L167.0,213.0 L168.0,212.9 L169.0,212.8 L170.0,212.7 L171.0,212.7 L172.0,212.6 L173.0,212.5 L174.0,212.4 L175.0,212.3 L176.0,212.2 L177.0,212.1 L178.0,212.0 L179.0,211.9 L180.0,211.8 L181.0,211.7 L182.0,211.5 L183.0,211.4 L184.0,211.3 L185.0,211.2 L186.0,211.1 L187.0,210.9 L188.0,210.8 L189.0,210.6 L190.0,210.5 L191.0,210.3 L192.0,210.1 L193.0,210.0 L194.0,209.8 L195.0,209.6 L196.0,209.4 L197.0,209.1 L198.0,208.9 L199.0,208.7 L200.0,208.4 L201.0,208.2 L202.0,207.9 L203.0,207.6 L204.0,207.3 L205.0,207.0 L206.0,206.6 L207.0,206.3 L208.0,205.9 L209.0,205.6 L210.0,205.2 L211.0,204.8 L212.0,204.4 L213.0,203.9 L214.0,203.5 L215.0,203.1 L216.0,202.6 L217.0,202.2 L218.0,201.7 L219.0,201.3 L220.0,200.8 L221.0,200.3 L222.0,199.9 L223.0,199.4 L224.0,198.9 L225.0,198.5 L226.0,198.0 L227.0,197.6 L228.0,197.1 L229.0,196.7 L230.0,196.2 L231.0,195.8 L232.0,195.3 L233.0,194.9 L234.0,194.4 L235.0,193.9 L236.0,193.4 L237.0,192.9 L238.0,192.4 L239.0,191.8 L240.0,191.2 L241.0,190.7 L242.0,190.1 L243.0,189.4 L244.0,188.8 L245.0,188.1 L246.0,187.4 L247.0,186.6 L248.0,185.9 L249.0,185.1 L250.0,184.3 L251.0,183.5 L252.0,182.6 L253.0,181.8 L254.0,180.9 L255.0,180.0 L256.0,179.1 L257.0,178.2 L258.0,177.3 L259.0,176.3 L260.0,175.4 L261.0,174.4 L262.0,173.5 L263.0,172.5 L264.0,171.5 L265.0,170.5 L266.0,169.5 L267.0,168.5 L268.0,167.5 L269.0,166.5 L270.0,165.5 L271.0,164.5 L272.0,163.5 L273.0,162.5 L274.0,161.4 L275.0,160.4 L276.0,159.4 L277.0,158.4 L278.0,157.3 L279.0,156.3 L280.0,155.3 L281.0,154.3 L282.0,153.2 L283.0,152.2 L284.0,151.2 L285.0,150.2 L286.0,149.2 L287.0,148.2 L288.0,147.2 L289.0,146.2 L290.0,145.2 L291.0,144.2 L292.0,143.2 L293.0,142.2 L294.0,141.3 L295.0,140.3 L296.0,139.4 L297.0,138.4 L298.0,137.5 L299.0,136.6 L300.0,135.6 L301.0,134.7 L302.0,133.8 L303.0,132.9 L304.0,132.0 L305.0,131.1 L306.0,130.2 L307.0,129.3 L308.0,128.4 L309.0,127.5 L310.0,126.7 L311.0,125.8 L312.0,124.9 L313.0,124.1 L314.0,123.2 L315.0,122.4 L316.0,121.5 L317.0,120.7 L318.0,119.9 L319.0,119.0 L320.0,118.2 L321.0,117.4 L322.0,116.5 L323.0,115.7 L324.0,114.9 L325.0,114.1 L326.0,113.3 L327.0,112.5 L328.0,111.6 L329.0,110.8 L330.0,110.0 L331.0,109.2 L332.0,108.4 L333.0,107.6 L334.0,106.8 L335.0,106.1 L336.0,105.3 L337.0,104.5 L338.0,103.7 L339.0,102.9 L340.0,102.1 L341.0,101.3 L342.0,100.6 L343.0,99.8 L344.0,99.0 L345.0,98.2 L346.0,97.5 L347.0,96.7 L348.0,95.9 L349.0,95.1 L350.0,94.4 L351.0,93.6 L352.0,92.9 L353.0,92.1 L354.0,91.3 L355.0,90.6 L356.0,89.8 L357.0,89.1 L358.0,88.4 L359.0,87.6 L360.0,86.9 L361.0,86.1 L362.0,85.4 L363.0,84.7 L364.0,83.9 L365.0,83.2 L366.0,82.5 L367.0,81.8 L368.0,81.0 L369.0,80.3 L370.0,79.6 L371.0,78.9 L372.0,78.2 L373.0,77.5 L374.0,76.8 L375.0,76.1 L376.0,75.5 L377.0,74.8 L378.0,74.2 L379.0,73.6 L380.0,73.0 L381.0,72.4 L382.0,71.8 L383.0,71.3 L384.0,70.8 L385.0,70.4 L386.0,70.0 L387.0,69.6 L388.0,69.2 L389.0,68.9 L390.0,68.7 L391.0,68.5 L392.0,68.3 L393.0,68.2 L394.0,68.1 L395.0,67.9 L396.0,67.7 L397.0,67.6 L398.0,67.5 L399.0,67.4 L400.0,67.3 L401.0,67.2 L402.0,67.1 L403.0,67.1 L404.0,67.1 L405.0,67.1 L406.0,67.1 L407.0,67.1 L408.0,67.1 L409.0,67.1 L410.0,67.1 L411.0,67.2 L412.0,67.2 L413.0,67.3 L414.0,67.3 L415.0,67.4 L416.0,67.4 L417.0,67.5 L418.0,67.5 L419.0,67.6 L420.0,67.7 L421.0,67.7 L422.0,67.8 L423.0,67.8 L424.0,67.9 L425.0,67.9 L426.0,67.9 L427.0,68.0 L428.0,68.0 L429.0,68.1 L430.0,68.1 L431.0,68.1 L432.0,68.1 L433.0,68.2 L434.0,68.2 L435.0,68.2 L436.0,68.2 L437.0,68.3 L438.0,68.3 L439.0,68.3 L440.0,68.3 L441.0,68.3 L442.0,68.3 L443.0,68.3 L444.0,68.3 L445.0,68.3 L446.0,68.3 L447.0,68.3 L448.0,68.3 L449.0,68.3 L450.0,68.3 L451.0,68.3 L452.0,68.3 L453.0,68.3 L454.0,68.3 L455.0,68.3 L456.0,68.3 L457.0,68.3 L458.0,68.3 L459.0,68.2 L460.0,68.2 L461.0,68.2 L462.0,68.2 L463.0,68.2 L464.0,68.2 L465.0,68.1 L466.0,68.1 L467.0,68.1 L468.0,68.1 L469.0,68.1 L470.0,68.0 L471.0,68.0 L472.0,68.0 L473.0,68.0 L474.0,67.9 L475.0,67.9 L476.0,67.9 L477.0,67.9 L478.0,67.8 L479.0,67.8 L480.0,67.8 L481.0,67.8 L482.0,67.7 L483.0,67.7 L484.0,67.7 L485.0,67.6 L486.0,67.6 L487.0,67.6 L488.0,67.6 L489.0,67.5 L490.0,67.5 L491.0,67.5 L492.0,67.5 L493.0,67.4 L494.0,67.4"/>
<path stroke="#858585" d="M63.0,219.8 L64.0,219.8 L65.0,219.9 L66.0,219.9 L67.0,219.9 L68.0,220.0 L69.0,220.0 L70.0,220.0 L71.0,220.0 L72.0,220.0 L73.0,220.0 L74.0,220.0 L75.0,220.1 L76.0,220.1 L77.0,220.1 L78.0,220.0 L79.0,220.0 L80.0,220.0 L81.0,220.0 L82.0,220.0 L83.0,220.0 L84.0,220.0 L85.0,219.9 L86.0,219.9 L87.0,219.9 L88.0,219.9 L89.0,219.8 L90.0,219.8 L91.0,219.8 L92.0,219.7 L93.0,219.7 L94.0,219.6 L95.0,219.6 L96.0,219.5 L97.0,219.5 L98.0,219.4 L99.0,219.4 L100.0,219.3 L101.0,219.3 L102.0,219.2 L103.0,219.2 L104.0,219.1 L105.0,219.0 L106.0,219.0 L107.0,218.9 L108.0,218.8 L109.0,218.8 L110.0,218.7 L111.0,218.6 L112.0,218.5 L113.0,218.5 L114.0,218.4 L115.0,218.3 L116.0,218.2 L117.0,218.1 L118.0,218.1 L119.0,218.0 L120.0,217.9 L121.0,217.8 L122.0,217.7 L123.0,217.6 L124.0,217.5 L125.0,217.5 L126.0,217.4 L127.0,217.3 L128.0,217.2 L129.0,217.1 L130.0,217.0 L131.0,216.9 L132.0,216.8 L133.0,216.7 L134.0,216.6 L135.0,216.5 L136.0,216.4 L137.0,216.3 L138.0,216.2 L139.0,216.1 L140.0,216.0 L141.0,215.9 L142.0,215.8 L143.0,215.7 L144.0,215.6 L145.0,215.5 L146.0,215.4 L147.0,215.3 L148.0,215.2 L149.0,215.1 L150.0,215.0 L151.0,214.9 L152.0,214.8 L153.0,214.7 L154.0,214.6 L155.0,214.5 L156.0,214.4 L157.0,214.3 L158.0,214.2 L159.0,214.1 L160.0,214.0 L161.0,213.9 L162.0,213.8 L163.0,213.7 L164.0,213.6 L165.0,213.5 L166.0,213.4 L167.0,213.3 L168.0,213.2 L169.0,213.1 L170.0,213.1 L171.0,213.0 L172.0,212.9 L173.0,212.8 L174.0,212.7 L175.0,212.6 L176.0,212.5 L177.0,212.4 L178.0,212.3 L179.0,212.3 L180.0,212.2 L181.0,212.1 L182.0,212.0 L183.0,211.8 L184.0,211.7 L185.0,211.6 L186.0,211.5 L187.0,211.4 L188.0,211.2 L189.0,211.1 L190.0,211.0 L191.0,210.8 L192.0,210.7 L193.0,210.5 L194.0,210.3 L195.0,210.1 L196.0,209.9 L197.0,209.7 L198.0,209.5 L199.0,209.3 L200.0,209.0 L201.0,208.8 L202.0,208.5 L203.0,208.3 L204.0,208.0 L205.0,207.7 L206.0,207.4 L207.0,207.1 L208.0,206.8 L209.0,206.5 L210.0,206.1 L211.0,205.7 L212.0,205.4 L213.0,205.0 L214.0,204.6 L215.0,204.2 L216.0,203.8 L217.0,203.4 L218.0,203.0 L219.0,202.6 L220.0,202.2 L221.0,201.7 L222.0,201.3 L223.0,200.9 L224.0,200.5 L225.0,200.0 L226.0,199.6 L227.0,199.2 L228.0,198.7 L229.0,198.3 L230.0,197.8 L231.0,197.4 L232.0,196.9 L233.0,196.5 L234.0,196.0 L235.0,195.5 L236.0,195.0 L237.0,194.5 L238.0,194.0 L239.0,193.4 L240.0,192.9 L241.0,192.3 L242.0,191.7 L243.0,191.1 L244.0,190.4 L245.0,189.8 L246.0,189.0 L247.0,188.3 L248.0,187.5 L249.0,186.7 L250.0,185.8 L251.0,184.9 L252.0,184.0 L253.0,183.0 L254.0,182.0 L255.0,181.1 L256.0,180.1 L257.0,179.0 L258.0,178.0 L259.0,176.9 L260.0,175.8 L261.0,174.8 L262.0,173.7 L263.0,172.5 L264.0,171.4 L265.0,170.3 L266.0,169.2 L267.0,168.1 L268.0,167.0 L269.0,165.9 L270.0,164.8 L271.0,163.7 L272.0,162.6 L273.0,161.5 L274.0,160.4 L275.0,159.2 L276.0,158.1 L277.0,157.0 L278.0,155.8 L279.0,154.7 L280.0,153.5 L281.0,152.4 L282.0,151.2 L283.0,150.0 L284.0,148.8 L285.0,147.6 L286.0,146.5 L287.0,145.3 L288.0,144.2 L289.0,143.0 L290.0,141.9 L291.0,140.8 L292.0,139.7 L293.0,138.7 L294.0,137.7 L295.0,136.7 L296.0,135.8 L297.0,134.8 L298.0,133.9 L299.0,132.9 L300.0,132.0 L301.0,131.1 L302.0,130.2 L303.0,129.2 L304.0,128.3 L305.0,127.4 L306.0,126.5 L307.0,125.7 L308.0,124.8 L309.0,123.9 L310.0,123.0 L311.0,122.2 L312.0,121.3 L313.0,120.4 L314.0,119.6 L315.0,118.7 L316.0,117.9 L317.0,117.0 L318.0,116.2 L319.0,115.3 L320.0,114.5 L321.0,113.7 L322.0,112.9 L323.0,112.0 L324.0,111.2 L325.0,110.4 L326.0,109.6 L327.0,108.8 L328.0,108.0 L329.0,107.1 L330.0,106.3 L331.0,105.5 L332.0,104.7 L333.0,103.9 L334.0,103.1 L335.0,102.3 L336.0,101.5 L337.0,100.7 L338.0,99.9 L339.0,99.1 L340.0,98.3 L341.0,97.5 L342.0,96.7 L343.0,95.9 L344.0,95.1 L345.0,94.3 L346.0,93.5 L347.0,92.7 L348.0,92.0 L349.0,91.2 L350.0,90.4 L351.0,89.6 L352.0,88.9 L353.0,88.1 L354.0,87.3 L355.0,86.6 L356.0,85.9 L357.0,85.2 L358.0,84.5 L359.0,83.8 L360.0,83.2 L361.0,82.6 L362.0,82.0 L363.0,81.4 L364.0,80.9 L365.0,80.3 L366.0,79.7 L367.0,79.2 L368.0,78.6 L369.0,78.1 L370.0,77.5 L371.0,76.9 L372.0,76.3 L373.0,75.8 L374.0,75.2 L375.0,74.7 L376.0,74.1 L377.0,73.6 L378.0,73.1 L379.0,72.7 L380.0,72.2 L381.0,71.8 L382.0,71.3 L383.0,70.9 L384.0,70.6 L385.0,70.2 L386.0,69.9 L387.0,69.5 L388.0,69.2 L389.0,68.9 L390.0,68.7 L391.0,68.4 L392.0,68.2 L393.0,68.0 L394.0,67.8 L395.0,67.6 L396.0,67.4 L397.0,67.3 L398.0,67.2 L399.0,67.1 L400.0,67.0 L401.0,66.9 L402.0,66.8 L403.0,66.8 L404.0,66.8 L405.0,66.7 L406.0,66.7 L407.0,66.7 L408.0,66.7 L409.0,66.8 L410.0,66.8 L411.0,66.8 L412.0,66.9 L413.0,66.9 L414.0,67.0 L415.0,67.1 L416.0,67.2 L417.0,67.2 L418.0,67.3 L419.0,67.4 L420.0,67.5 L421.0,67.6 L422.0,67.7 L423.0,67.8 L424.0,68.0 L425.0,68.1 L426.0,68.3 L427.0,68.4 L428.0,68.6 L429.0,68.7 L430.0,68.9 L431.0,69.0 L432.0,69.1 L433.0,69.2 L434.0,69.2 L435.0,69.3 L436.0,69.4 L437.0,69.4 L438.0,69.5 L439.0,69.5 L440.0,69.6 L441.0,69.6 L442.0,69.7 L443.0,69.7 L444.0,69.7 L445.0,69.8 L446.0,69.8 L447.0,69.8 L448.0,69.8 L449.0,69.8 L450.0,69.8 L451.0,69.9 L452.0,69.9 L453.0,69.9 L454.0,69.9 L455.0,69.9 L456.0,69.9 L457.0,69.9 L458.0,69.9 L459.0,69.9 L460.0,69.8 L461.0,69.8 L462.0,69.8 L463.0,69.8 L464.0,69.8 L465.0,69.7 L466.0,69.7 L467.0,69.7 L468.0,69.7 L469.0,69.7 L470.0,69.6 L471.0,69.6 L472.0,69.6 L473.0,69.6 L474.0,69.5 L475.0,69.5 L476.0,69.5 L477.0,69.5 L478.0,69.4 L479.0,69.4 L480.0,69.4 L481.0,69.4 L482.0,69.3 L483.0,69.3 L484.0,69.3 L485.0,69.2 L486.0,69.2 L487.0,69.2 L488.0,69.2 L489.0,69.1 L490.0,69.1 L491.0,69.1 L492.0,69.1 L493.0,69.0 L494.0,69.0"/>
<path stroke="#8a2be2" d="M63.0,219.8 L64.0,219.8 L65.0,219.9 L66.0,219.9 L67.0,219.9 L68.0,220.0 L69.0,220.0 L70.0,220.0 L71.0,220.0 L72.0,220.0 L73.0,220.0 L74.0,220.0 L75.0,220.0 L76.0,220.0 L77.0,220.0 L78.0,220.0 L79.0,220.0 L80.0,220.0 L81.0,220.0 L82.0,220.0 L83.0,220.0 L84.0,219.9 L85.0,219.9 L86.0,219.9 L87.0,219.9 L88.0,219.8 L89.0,219.8 L90.0,219.8 L91.0,219.7 L92.0,219.7 L93.0,219.6 L94.0,219.6 L95.0,219.5 L96.0,219.5 L97.0,219.4 L98.0,219.4 L99.0,219.3 L100.0,219.3 L101.0,219.2 L102.0,219.1 L103.0,219.1 L104.0,219.0 L105.0,218.9 L106.0,218.9 L107.0,218.8 L108.0,218.7 L109.0,218.7 L110.0,218.6 L111.0,218.5 L112.0,218.4 L113.0,218.3 L114.0,218.3 L115.0,218.2 L116.0,218.1 L117.0,218.0 L118.0,217.9 L119.0,217.8 L120.0,217.7 L121.0,217.7 L122.0,217.6 L123.0,217.5 L124.0,217.4 L125.0,217.3 L126.0,217.2 L127.0,217.1 L128.0,217.0 L129.0,216.9 L130.0,216.8 L131.0,216.7 L132.0,216.6 L133.0,216.5 L134.0,216.4 L135.0,216.3 L136.0,216.2 L137.0,216.1 L138.0,216.0 L139.0,215.9 L140.0,215.8 L141.0,215.7 L142.0,215.6 L143.0,215.4 L144.0,215.3 L145.0,215.2 L146.0,215.1 L147.0,215.0 L148.0,214.9 L149.0,214.8 L150.0,214.7 L151.0,214.6 L152.0,214.5 L153.0,214.4 L154.0,214.3 L155.0,214.2 L156.0,214.1 L157.0,214.0 L158.0,213.8 L159.0,213.7 L160.0,213.6 L161.0,213.5 L162.0,213.4 L163.0,213.3 L164.0,213.2 L165.0,213.1 L166.0,213.0 L167.0,212.9 L168.0,212.8 L169.0,212.7 L170.0,212.6 L171.0,212.5 L172.0,212.4 L173.0,212.3 L174.0,212.2 L175.0,212.1 L176.0,212.0 L177.0,211.9 L178.0,211.8 L179.0,211.7 L180.0,211.6 L181.0,211.5 L182.0,211.4 L183.0,211.3 L184.0,211.2 L185.0,211.0 L186.0,210.9 L187.0,210.8 L188.0,210.6 L189.0,210.5 L190.0,210.3 L191.0,210.1 L192.0,210.0 L193.0,209.8 L194.0,209.6 L195.0,209.4 L196.0,209.2 L197.0,209.0 L198.0,208.7 L199.0,208.5 L200.0,208.2 L201.0,208.0 L202.0,207.7 L203.0,207.4 L204.0,207.1 L205.0,206.8 L206.0,206.4 L207.0,206.1 L208.0,205.7 L209.0,205.4 L210.0,205.0 L211.0,204.6 L212.0,204.2 L213.0,203.7 L214.0,203.3 L215.0,202.9 L216.0,202.4 L217.0,202.0 L218.0,201.5 L219.0,201.1 L220.0,200.6 L221.0,200.1 L222.0,199.7 L223.0,199.2 L224.0,198.7 L225.0,198.3 L226.0,197.8 L227.0,197.4 L228.0,196.9 L229.0,196.5 L230.0,196.0 L231.0,195.6 L232.0,195.1 L233.0,194.7 L234.0,194.2 L235.0,193.7 L236.0,193.2 L237.0,192.7 L238.0,192.2 L239.0,191.6 L240.0,191.1 L241.0,190.5 L242.0,189.9 L243.0,189.3 L244.0,188.6 L245.0,188.0 L246.0,187.3 L247.0,186.5 L248.0,185.8 L249.0,185.0 L250.0,184.2 L251.0,183.4 L252.0,182.6 L253.0,181.7 L254.0,180.9 L255.0,180.0 L256.0,179.1 L257.0,178.2 L258.0,177.2 L259.0,176.3 L260.0,175.4 L261.0,174.4 L262.0,173.5 L263.0,172.5 L264.0,171.5 L265.0,170.5 L266.0,169.5 L267.0,168.5 L268.0,167.5 L269.0,166.5 L270.0,165.5 L271.0,164.5 L272.0,163.5 L273.0,162.5 L274.0,161.4 L275.0,160.4 L276.0,159.4 L277.0,158.4 L278.0,157.3 L279.0,156.3 L280.0,155.3 L281.0,154.3 L282.0,153.2 L283.0,152.2 L284.0,151.2 L285.0,150.2 L286.0,149.2 L287.0,148.2 L288.0,147.2 L289.0,146.2 L290.0,145.2 L291.0,144.2 L292.0,143.2 L293.0,142.2 L294.0,141.3 L295.0,140.3 L296.0,139.4 L297.0,138.4 L298.0,137.5 L299.0,136.6 L300.0,135.6 L301.0,134.7 L302.0,133.8 L303.0,132.9 L304.0,132.0 L305.0,131.1 L306.0,130.2 L307.0,129.3 L308.0,128.4 L309.0,127.5 L310.0,126.7 L311.0,125.8 L312.0,124.9 L313.0,124.1 L314.0,123.2 L315.0,122.4 L316.0,121.5 L317.0,120.7 L318.0,119.9 L319.0,119.0 L320.0,118.2 L321.0,117.4 L322.0,116.5 L323.0,115.7 L324.0,114.9 L325.0,114.1 L326.0,113.3 L327.0,112.5 L328.0,111.6 L329.0,110.8 L330.0,110.0 L331.0,109.2 L332.0,108.4 L333.0,107.6 L334.0,106.8 L335.0,106.1 L336.0,105.3 L337.0,104.5 L338.0,103.7 L339.0,102.9 L340.0,102.1 L341.0,101.3 L342.0,100.6 L343.0,99.8 L344.0,99.0 L345.0,98.2 L346.0,97.5 L347.0,96.7 L348.0,95.9 L349.0,95.1 L350.0,94.4 L351.0,93.6 L352.0,92.9 L353.0,92.1 L354.0,91.3 L355.0,90.6 L356.0,89.8 L357.0,89.1 L358.0,88.4 L359.0,87.6 L360.0,86.9 L361.0,86.1 L362.0,85.4 L363.0,84.7 L364.0,83.9 L365.0,83.2 L366.0,82.5 L367.0,81.8 L368.0,81.0 L369.0,80.3 L370.0,79.6 L371.0,78.9 L372.0,78.2 L373.0,77.5 L374.0,76.8 L375.0,76.1 L376.0,75.5 L377.0,74.8 L378.0,74.2 L379.0,73.6 L380.0,73.0 L381.0,72.4 L382.0,71.8 L383.0,71.3 L384.0,70.8 L385.0,70.4 L386.0,70.0 L387.0,69.6 L388.0,69.2 L389.0,68.9 L390.0,68.6 L391.0,68.3 L392.0,68.0 L393.0,67.8 L394.0,67.6 L395.0,67.4 L396.0,67.2 L397.0,67.1 L398.0,67.0 L399.0,66.9 L400.0,66.8 L401.0,66.7 L402.0,66.6 L403.0,66.6 L404.0,66.6 L405.0,66.5 L406.0,66.5 L407.0,66.5 L408.0,66.5 L409.0,66.6 L410.0,66.6 L411.0,66.6 L412.0,66.7 L413.0,66.7 L414.0,66.8 L415.0,66.8 L416.0,66.9 L417.0,66.9 L418.0,67.0 L419.0,67.0 L420.0,67.1 L421.0,67.2 L422.0,67.2 L423.0,67.3 L424.0,67.3 L425.0,67.3 L426.0,67.4 L427.0,67.4 L428.0,67.5 L429.0,67.5 L430.0,67.5 L431.0,67.5 L432.0,67.6 L433.0,67.6 L434.0,67.6 L435.0,67.6 L436.0,67.7 L437.0,67.7 L438.0,67.7 L439.0,67.7 L440.0,67.7 L441.0,67.7 L442.0,67.7 L443.0,67.7 L444.0,67.7 L445.0,67.8 L446.0,67.8 L447.0,67.8 L448.0,67.8 L449.0,67.8 L450.0,67.7 L451.0,67.7 L452.0,67.7 L453.0,67.7 L454.0,67.7 L455.0,67.7 L456.0,67.7 L457.0,67.7 L458.0,67.7 L459.0,67.7 L460.0,67.6 L461.0,67.6 L462.0,67.6 L463.0,67.6 L464.0,67.6 L465.0,67.5 L466.0,67.5 L467.0,67.5 L468.0,67.5 L469.0,67.5 L470.0,67.4 L471.0,67.4 L472.0,67.4 L473.0,67.4 L474.0,67.3 L475.0,67.3 L476.0,67.3 L477.0,67.3 L478.0,67.2 L479.0,67.2 L480.0,67.2 L481.0,67.2 L482.0,67.1 L483.0,67.1 L484.0,67.1 L485.0,67.0 L486.0,67.0 L487.0,67.0 L488.0,67.0 L489.0,66.9 L490.0,66.9 L491.0,66.9 L492.0,66.9 L493.0,66.8 L494.0,66.8"/>
<path stroke="#1a1a1a" d="M63.0,219.8 L64.0,219.8 L65.0,219.8 L66.0,219.8 L67.0,219.9 L68.0,219.9 L69.0,219.9 L70.0,219.9 L71.0,219.9 L72.0,219.9 L73.0,219.9 L74.0,219.9 L75.0,219.8 L76.0,219.8 L77.0,219.8 L78.0,219.8 L79.0,219.8 L80.0,219.8 L81.0,219.7 L82.0,219.7 L83.0,219.7 L84.0,219.6 L85.0,219.6 L86.0,219.6 L87.0,219.5 L88.0,219.5 L89.0,219.4 L90.0,219.4 L91.0,219.3 L92.0,219.3 L93.0,219.2 L94.0,219.2 L95.0,219.1 L96.0,219.0 L97.0,219.0 L98.0,218.9 L99.0,218.8 L100.0,218.8 L101.0,218.7 L102.0,218.6 L103.0,218.6 L104.0,218.5 L105.0,218.4 L106.0,218.3 L107.0,218.2 L108.0,218.1 L109.0,218.0 L110.0,218.0 L111.0,217.9 L112.0,217.8 L113.0,217.7 L114.0,217.6 L115.0,217.5 L116.0,217.4 L117.0,217.3 L118.0,217.1 L119.0,217.0 L120.0,216.9 L121.0,216.8 L122.0,216.7 L123.0,216.6 L124.0,216.5 L125.0,216.3 L126.0,216.2 L127.0,216.1 L128.0,216.0 L129.0,215.8 L130.0,215.7 L131.0,215.6 L132.0,215.4 L133.0,215.3 L134.0,215.2 L135.0,215.0 L136.0,214.9 L137.0,214.8 L138.0,214.6 L139.0,214.5 L140.0,214.3 L141.0,214.2 L142.0,214.0 L143.0,213.9 L144.0,213.7 L145.0,213.6 L146.0,213.4 L147.0,213.2 L148.0,213.1 L149.0,212.9 L150.0,212.8 L151.0,212.6 L152.0,212.4 L153.0,212.3 L154.0,212.1 L155.0,211.9 L156.0,211.8 L157.0,211.6 L158.0,211.4 L159.0,211.3 L160.0,211.1 L161.0,210.9 L162.0,210.7 L163.0,210.5 L164.0,210.4 L165.0,210.2 L166.0,210.0 L167.0,209.8 L168.0,209.6 L169.0,209.4 L170.0,209.2 L171.0,209.0 L172.0,208.8 L173.0,208.5 L174.0,208.3 L175.0,208.1 L176.0,207.8 L177.0,207.6 L178.0,207.3 L179.0,207.1 L180.0,206.8 L181.0,206.5 L182.0,206.2 L183.0,205.9 L184.0,205.6 L185.0,205.3 L186.0,204.9 L187.0,204.6 L188.0,204.2 L189.0,203.9 L190.0,203.5 L191.0,203.1 L192.0,202.7 L193.0,202.3 L194.0,201.9 L195.0,201.4 L196.0,201.0 L197.0,200.5 L198.0,200.0 L199.0,199.5 L200.0,199.0 L201.0,198.4 L202.0,197.9 L203.0,197.3 L204.0,196.7 L205.0,196.1 L206.0,195.5 L207.0,194.9 L208.0,194.2 L209.0,193.5 L210.0,192.8 L211.0,192.1 L212.0,191.4 L213.0,190.6 L214.0,189.8 L215.0,189.0 L216.0,188.2 L217.0,187.4 L218.0,186.5 L219.0,185.6 L220.0,184.7 L221.0,183.8 L222.0,182.9 L223.0,181.9 L224.0,181.0 L225.0,180.0 L226.0,178.9 L227.0,177.9 L228.0,176.9 L229.0,175.8 L230.0,174.7 L231.0,173.6 L232.0,172.5 L233.0,171.3 L234.0,170.1 L235.0,169.0 L236.0,167.8 L237.0,166.6 L238.0,165.4 L239.0,164.1 L240.0,162.9 L241.0,161.7 L242.0,160.4 L243.0,159.2 L244.0,157.9 L245.0,156.7 L246.0,155.4 L247.0,154.1 L248.0,152.9 L249.0,151.6 L250.0,150.4 L251.0,149.1 L252.0,147.9 L253.0,146.7 L254.0,145.4 L255.0,144.2 L256.0,142.9 L257.0,141.7 L258.0,140.5 L259.0,139.3 L260.0,138.1 L261.0,136.9 L262.0,135.7 L263.0,134.5 L264.0,133.3 L265.0,132.1 L266.0,130.9 L267.0,129.8 L268.0,128.6 L269.0,127.4 L270.0,126.3 L271.0,125.2 L272.0,124.0 L273.0,122.9 L274.0,121.8 L275.0,120.7 L276.0,119.6 L277.0,118.5 L278.0,117.4 L279.0,116.3 L280.0,115.3 L281.0,114.2 L282.0,113.2 L283.0,112.1 L284.0,111.1 L285.0,110.1 L286.0,109.1 L287.0,108.1 L288.0,107.1 L289.0,106.2 L290.0,105.2 L291.0,104.3 L292.0,103.3 L293.0,102.4 L294.0,101.5 L295.0,100.6 L296.0,99.7 L297.0,98.8 L298.0,97.9 L299.0,97.0 L300.0,96.1 L301.0,95.2 L302.0,94.3 L303.0,93.4 L304.0,92.6 L305.0,91.7 L306.0,90.8 L307.0,89.9 L308.0,89.1 L309.0,88.2 L310.0,87.3 L311.0,86.5 L312.0,85.6 L313.0,84.7 L314.0,83.8 L315.0,82.9 L316.0,82.0 L317.0,81.1 L318.0,80.3 L319.0,79.4 L320.0,78.5 L321.0,77.6 L322.0,76.7 L323.0,75.8 L324.0,74.9 L325.0,74.0 L326.0,73.2 L327.0,72.4 L328.0,71.5 L329.0,70.7 L330.0,69.9 L331.0,69.2 L332.0,68.5 L333.0,67.7 L334.0,67.1 L335.0,66.4 L336.0,65.8 L337.0,65.2 L338.0,64.6 L339.0,64.1 L340.0,63.6 L341.0,63.1 L342.0,62.6 L343.0,62.2 L344.0,61.7 L345.0,61.4 L346.0,61.0 L347.0,60.6 L348.0,60.3 L349.0,60.0 L350.0,59.8 L351.0,59.5 L352.0,59.3 L353.0,59.1 L354.0,59.0 L355.0,58.8 L356.0,58.7 L357.0,58.6 L358.0,58.6 L359.0,58.5 L360.0,58.5 L361.0,58.5 L362.0,58.5 L363.0,58.6 L364.0,58.6 L365.0,58.7 L366.0,58.9 L367.0,59.0 L368.0,59.1 L369.0,59.3 L370.0,59.5 L371.0,59.7 L372.0,59.9 L373.0,60.1 L374.0,60.3 L375.0,60.5 L376.0,60.7 L377.0,60.9 L378.0,61.1 L379.0,61.3 L380.0,61.5 L381.0,61.7 L382.0,61.8 L383.0,62.0 L384.0,62.2 L385.0,62.3 L386.0,62.4 L387.0,62.5 L388.0,62.6 L389.0,62.7 L390.0,62.8 L391.0,62.9 L392.0,63.0 L393.0,63.0 L394.0,63.1 L395.0,63.1 L396.0,63.1 L397.0,63.1 L398.0,63.2 L399.0,63.2 L400.0,63.1 L401.0,63.1 L402.0,63.1 L403.0,63.1 L404.0,63.1 L405.0,63.0 L406.0,63.0 L407.0,62.9 L408.0,62.9 L409.0,62.8 L410.0,62.8 L411.0,62.7 L412.0,62.7 L413.0,62.6 L414.0,62.5 L415.0,62.5 L416.0,62.4 L417.0,62.3 L418.0,62.2 L419.0,62.2 L420.0,62.1 L421.0,62.0 L422.0,61.9 L423.0,61.9 L424.0,61.8 L425.0,61.7 L426.0,61.6 L427.0,61.6 L428.0,61.5 L429.0,61.4 L430.0,61.3 L431.0,61.3 L432.0,61.2 L433.0,61.1 L434.0,61.0 L435.0,61.0 L436.0,60.9 L437.0,60.8 L438.0,60.8 L439.0,60.7 L440.0,60.6 L441.0,60.5 L442.0,60.5 L443.0,60.4 L444.0,60.3 L445.0,60.3 L446.0,60.2 L447.0,60.1 L448.0,60.0 L449.0,60.0 L450.0,59.9 L451.0,59.8 L452.0,59.7 L453.0,59.7 L454.0,59.6 L455.0,59.5 L456.0,59.5 L457.0,59.4 L458.0,59.3 L459.0,59.2 L460.0,59.2 L461.0,59.1 L462.0,59.0 L463.0,58.9 L464.0,58.9 L465.0,58.8 L466.0,58.7 L467.0,58.7 L468.0,58.6 L469.0,58.5 L470.0,58.4 L471.0,58.4 L472.0,58.3 L473.0,58.2 L474.0,58.1 L475.0,58.1 L476.0,58.0 L477.0,57.9 L478.0,57.8 L479.0,57.8 L480.0,57.7 L481.0,57.6 L482.0,57.5 L483.0,57.5 L484.0,57.4 L485.0,57.3 L486.0,57.2 L487.0,57.1 L488.0,57.1 L489.0,57.0 L490.0,56.9 L491.0,56.8 L492.0,56.8 L493.0,56.7 L494.0,56.6"/>
</g>
<g stroke-width="1.05"><line x1="77" y1="28.4" x2="113.6" y2="28.4" stroke="#1a1a1a"/><line x1="77" y1="40.5" x2="113.6" y2="40.5" stroke="#8a2be2"/><line x1="77" y1="52.7" x2="113.6" y2="52.7" stroke="#858585"/><line x1="77" y1="64.8" x2="113.6" y2="64.8" stroke="#ff00ff"/><line x1="77" y1="76.9" x2="113.6" y2="76.9" stroke="#ffa81a"/><line x1="77" y1="89.1" x2="113.6" y2="89.1" stroke="#b8860b"/><line x1="77" y1="101.2" x2="113.6" y2="101.2" stroke="#00ffff"/><line x1="77" y1="113.3" x2="113.6" y2="113.3" stroke="#bc78ff"/><line x1="77" y1="125.4" x2="113.6" y2="125.4" stroke="#00ff00"/><line x1="77" y1="137.6" x2="113.6" y2="137.6" stroke="#0000ff"/><line x1="77" y1="149.7" x2="113.6" y2="149.7" stroke="#ff0000"/></g>
<g font-size="14.1px" letter-spacing="0.13"><text x="126" y="32.5">GEM-V</text><text x="126" y="44.6">GEM-V10-SA</text><text x="126" y="56.8">GEM-V10-MA</text><text x="126" y="68.9">GEM-V10-SG</text><text x="126" y="81.0">GEM-V10-MG</text><text x="126" y="93.2">GEM-V5-S</text><text x="126" y="105.3">GEM-V5-M</text><text x="126" y="117.4">GEM-10-S</text><text x="126" y="129.5">GEM-10-M</text><text x="126" y="141.7">GEM-5-S</text><text x="126" y="153.8">GEM-5-M</text></g>
<g stroke="#000" stroke-width="1.65" fill="none" stroke-linecap="square"><line x1="63" y1="14.85" x2="494.2" y2="14.85"/><line x1="63" y1="230.5" x2="494.2" y2="230.5"/><line x1="63" y1="14.85" x2="63" y2="230.5"/><line x1="494.2" y1="14.85" x2="494.2" y2="230.5"/></g>
<g stroke="#000" stroke-width="1.15" fill="none"><line x1="63.0" y1="230.5" x2="63.0" y2="237.8"/><line x1="116.9" y1="230.5" x2="116.9" y2="237.8"/><line x1="170.8" y1="230.5" x2="170.8" y2="237.8"/><line x1="224.7" y1="230.5" x2="224.7" y2="237.8"/><line x1="278.6" y1="230.5" x2="278.6" y2="237.8"/><line x1="332.6" y1="230.5" x2="332.6" y2="237.8"/><line x1="386.5" y1="230.5" x2="386.5" y2="237.8"/><line x1="440.4" y1="230.5" x2="440.4" y2="237.8"/><line x1="494.3" y1="230.5" x2="494.3" y2="237.8"/><line x1="55.2" y1="230.5" x2="63.0" y2="230.5"/><line x1="55.2" y1="203.6" x2="63.0" y2="203.6"/><line x1="55.2" y1="176.6" x2="63.0" y2="176.6"/><line x1="55.2" y1="149.7" x2="63.0" y2="149.7"/><line x1="55.2" y1="122.8" x2="63.0" y2="122.8"/><line x1="55.2" y1="95.8" x2="63.0" y2="95.8"/><line x1="55.2" y1="68.9" x2="63.0" y2="68.9"/><line x1="55.2" y1="41.9" x2="63.0" y2="41.9"/><line x1="55.2" y1="15.0" x2="63.0" y2="15.0"/></g>
<g stroke="#000" stroke-width="1.25" fill="none" stroke-linejoin="miter"><path d="M220,20 L228.7,24.4 L228.7,74.4 L220,81.4"/><path d="M220,82 L228.7,87 L228.7,148.1 L220,152.4"/><path d="M495.6,16.2 L504.2,19.8 L504.2,36.1 L495.6,40.3"/><path d="M495.6,51.8 L504.2,55.4 L504.2,74.7 L495.6,79.3"/></g>
<g font-size="14.1px"><text x="43.6" y="234.5" text-anchor="end">0</text><text x="43.6" y="207.6" text-anchor="end">0.5</text><text x="43.6" y="180.6" text-anchor="end">1</text><text x="43.6" y="153.7" text-anchor="end">1.5</text><text x="43.6" y="126.8" text-anchor="end">2</text><text x="43.6" y="99.8" text-anchor="end">2.5</text><text x="43.6" y="72.9" text-anchor="end">3</text><text x="43.6" y="45.9" text-anchor="end">3.5</text><text x="43.6" y="19.0" text-anchor="end">4</text><text x="63.0" y="254" text-anchor="middle">0</text><text x="116.9" y="254" text-anchor="middle">5</text><text x="170.8" y="254" text-anchor="middle">10</text><text x="224.7" y="254" text-anchor="middle">15</text><text x="278.6" y="254" text-anchor="middle">20</text><text x="332.6" y="254" text-anchor="middle">25</text><text x="386.5" y="254" text-anchor="middle">30</text><text x="440.4" y="254" text-anchor="middle">35</text><text x="494.3" y="254" text-anchor="middle">40</text><text x="234" y="56.3">V</text><text x="234.2" y="122">F</text><text x="510.3" y="33">F</text><text x="510" y="70">V</text></g>
<g font-size="14.1px"><text x="260.6" y="272.3" class="it">t</text><text x="266.5" y="274.6" font-size="17.5px" textLength="5.6" lengthAdjust="spacingAndGlyphs">/</text><text x="272.4" y="272.3" class="it" font-size="15px">ω</text><text x="282" y="265.9" font-size="10.4px" textLength="13" lengthAdjust="spacingAndGlyphs">−1</text><text x="281.6" y="275.8" font-size="10.4px">c,<tspan class="it">i</tspan></text></g>
<g transform="translate(16.3,181) rotate(-90)"><path d="M0.5,3.0 C0.9,4.7 2.7,4.9 3.2,2.4 L5.3,-8.8 C5.9,-11.5 7.7,-11.4 8.1,-9.7" fill="none" stroke="#111" stroke-width="0.95" stroke-linecap="round"/><circle cx="0.9" cy="3.2" r="0.75" fill="#111"/><circle cx="7.7" cy="-10.0" r="0.75" fill="#111"/><text x="11.6" y="0.0" font-size="14.1px">|</text><text x="15.3" y="0.0" font-size="15.0px" class="it" textLength="10.0" lengthAdjust="spacingAndGlyphs">B</text><text x="26.4" y="2.3" font-size="10.4px" class="it">y</text><text x="32.6" y="0.0" font-size="14.1px">(</text><text x="37.2" y="0.0" font-size="15.0px" class="it">t</text><text x="42.6" y="0.0" font-size="14.1px">)</text><text x="48.5" y="0.0" font-size="14.1px">|</text><text x="53.8" y="0.0" font-size="14.6px">d</text><text x="62.6" y="0.0" font-size="14.6px" class="it" textLength="7.3" lengthAdjust="spacingAndGlyphs">x</text><text x="70.4" y="2.6" font-size="18.0px" textLength="6.5" lengthAdjust="spacingAndGlyphs">/</text><text x="77.7" y="0.0" font-size="14.1px">(</text><text x="82.4" y="0.0" font-size="15.0px" class="it" textLength="10.8" lengthAdjust="spacingAndGlyphs">B</text><text x="93.7" y="2.3" font-size="10.0px">0</text><text x="99.6" y="0.0" font-size="14.5px" class="it">δ</text><text x="106.4" y="2.3" font-size="10.4px" class="it">i</text><text x="109.8" y="0.0" font-size="14.1px">)</text></g>
</svg></body></html>
